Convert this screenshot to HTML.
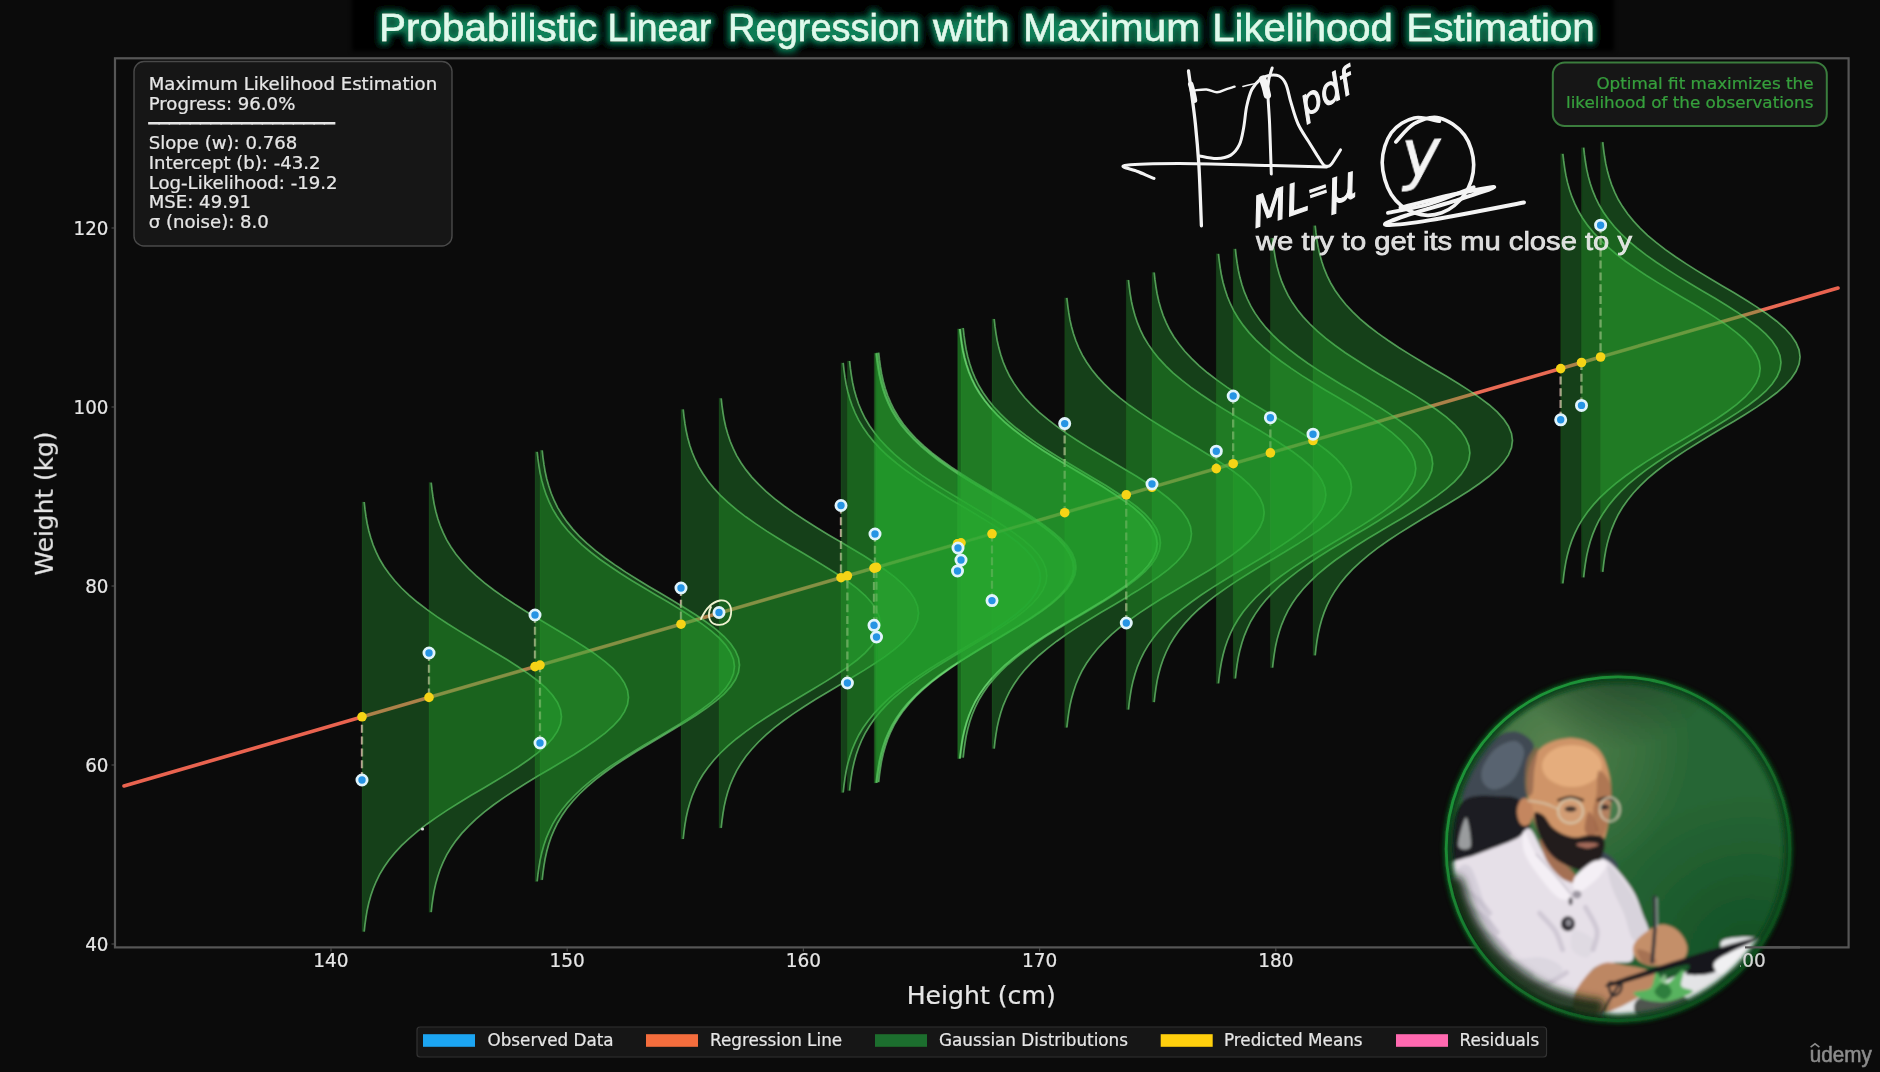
<!DOCTYPE html>
<html lang="en"><head><meta charset="utf-8"><title>Probabilistic Linear Regression with Maximum Likelihood Estimation</title>
<style>
html,body{margin:0;padding:0;background:#0b0b0b;overflow:hidden}
svg{display:block}
text{font-family:"DejaVu Sans","Liberation Sans",sans-serif;fill:#e6e6e6;stroke:#e6e6e6;stroke-width:.22px}
.t2{font-family:"Liberation Sans","DejaVu Sans",sans-serif}
</style></head><body>
<svg width="1880" height="1072" viewBox="0 0 1880 1072">
<defs>
<filter id="glow" x="-5%" y="-60%" width="110%" height="220%"><feGaussianBlur stdDeviation="3.6"/></filter>
<filter id="tglow" x="-2%" y="-60%" width="104%" height="220%"><feMorphology in="SourceAlpha" operator="dilate" radius="3.3" result="d"/><feGaussianBlur in="d" stdDeviation="3.4" result="b"/><feFlood flood-color="#0a8058" result="c"/><feComposite in="c" in2="b" operator="in" result="g"/><feMerge><feMergeNode in="g"/><feMergeNode in="SourceGraphic"/></feMerge></filter>
<filter id="soft" x="0" y="0" width="100%" height="100%" filterUnits="userSpaceOnUse"><feGaussianBlur stdDeviation="0.55"/></filter>
<filter id="b1"><feGaussianBlur stdDeviation="0.6"/></filter>
<filter id="b2"><feGaussianBlur stdDeviation="2"/></filter>
<filter id="b4"><feGaussianBlur stdDeviation="4"/></filter>
<clipPath id="plotclip"><rect x="115" y="58.3" width="1733.6" height="889.1"/></clipPath>
<filter id="cb" x="-5%" y="-5%" width="110%" height="110%"><feGaussianBlur stdDeviation="1.4"/></filter>
<clipPath id="c200"><rect x="1740" y="945" width="40" height="30"/></clipPath>
<clipPath id="camclip"><circle cx="1618" cy="848.7" r="171.5"/></clipPath>
<linearGradient id="ringg" gradientUnits="userSpaceOnUse" x1="1490" y1="720" x2="1740" y2="980"><stop offset="0" stop-color="#20983a"/><stop offset=".55" stop-color="#15702b"/><stop offset="1" stop-color="#0d4a1d"/></linearGradient>
<radialGradient id="cg1" gradientUnits="userSpaceOnUse" cx="1550" cy="745" r="140"><stop offset="0" stop-color="#6a8c5a" stop-opacity=".7"/><stop offset="1" stop-color="#6a8c5a" stop-opacity="0"/></radialGradient>
<radialGradient id="cg2" gradientUnits="userSpaceOnUse" cx="1750" cy="960" r="170"><stop offset="0" stop-color="#0d4a22" stop-opacity=".85"/><stop offset="1" stop-color="#0d4a22" stop-opacity="0"/></radialGradient>
<radialGradient id="cg3" gradientUnits="userSpaceOnUse" cx="1618" cy="640" r="110"><stop offset="0" stop-color="#1e3a24" stop-opacity=".9"/><stop offset="1" stop-color="#1e3a24" stop-opacity="0"/></radialGradient>
<radialGradient id="cambg" cx="0.35" cy="0.25" r="0.85">
<stop offset="0" stop-color="#5a8048"/><stop offset="0.45" stop-color="#2f6a38"/><stop offset="1" stop-color="#124a22"/></radialGradient>
</defs>
<rect x="0" y="0" width="1880" height="1072" fill="#0b0b0b"/>
<g filter="url(#soft)">

<rect x="352" y="-6" width="1262" height="57" fill="#000" filter="url(#b2)"/>
<g class="t2" font-size="38.5" text-anchor="start">
<text y="40.5" class="t2" style="fill:#defaec;stroke:#defaec;stroke-width:.35" filter="url(#tglow)"><tspan x="378.9" textLength="218.4" lengthAdjust="spacingAndGlyphs">Probabilistic</tspan> <tspan x="607.6" textLength="103.9" lengthAdjust="spacingAndGlyphs">Linear</tspan> <tspan x="728.1" textLength="192.1" lengthAdjust="spacingAndGlyphs">Regression</tspan> <tspan x="933.0" textLength="76.7" lengthAdjust="spacingAndGlyphs">with</tspan> <tspan x="1023.0" textLength="177.4" lengthAdjust="spacingAndGlyphs">Maximum</tspan> <tspan x="1212.3" textLength="180.5" lengthAdjust="spacingAndGlyphs">Likelihood</tspan> <tspan x="1406.3" textLength="188.5" lengthAdjust="spacingAndGlyphs">Estimation</tspan></text>
</g>
<rect x="115" y="58.3" width="1733.6" height="889.1" fill="none" stroke="#575757" stroke-width="2.2"/>
<g clip-path="url(#plotclip)">
<line x1="124" y1="786" x2="1838" y2="288" stroke="#e96350" stroke-width="3.6" stroke-linecap="round"/>
<line x1="362.0" y1="780.0" x2="362.0" y2="716.8" stroke="#d0aca2" stroke-opacity="0.85" stroke-width="2.3" stroke-dasharray="8 3.8"/>
<line x1="429.0" y1="653.0" x2="429.0" y2="697.4" stroke="#d0aca2" stroke-opacity="0.85" stroke-width="2.3" stroke-dasharray="8 3.8"/>
<line x1="535.0" y1="615.0" x2="535.0" y2="666.6" stroke="#d0aca2" stroke-opacity="0.85" stroke-width="2.3" stroke-dasharray="8 3.8"/>
<line x1="540.0" y1="743.0" x2="540.0" y2="665.1" stroke="#d0aca2" stroke-opacity="0.85" stroke-width="2.3" stroke-dasharray="8 3.8"/>
<line x1="681.0" y1="588.0" x2="681.0" y2="624.2" stroke="#d0aca2" stroke-opacity="0.85" stroke-width="2.3" stroke-dasharray="8 3.8"/>
<line x1="719.0" y1="612.5" x2="719.0" y2="613.1" stroke="#d0aca2" stroke-opacity="0.85" stroke-width="2.3" stroke-dasharray="8 3.8"/>
<line x1="841.0" y1="505.5" x2="841.0" y2="577.7" stroke="#d0aca2" stroke-opacity="0.85" stroke-width="2.3" stroke-dasharray="8 3.8"/>
<line x1="847.4" y1="683.0" x2="847.4" y2="575.8" stroke="#d0aca2" stroke-opacity="0.85" stroke-width="2.3" stroke-dasharray="8 3.8"/>
<line x1="875.0" y1="534.0" x2="875.0" y2="567.8" stroke="#d0aca2" stroke-opacity="0.85" stroke-width="2.3" stroke-dasharray="8 3.8"/>
<line x1="874.0" y1="625.3" x2="874.0" y2="568.1" stroke="#d0aca2" stroke-opacity="0.85" stroke-width="2.3" stroke-dasharray="8 3.8"/>
<line x1="876.5" y1="637.0" x2="876.5" y2="567.4" stroke="#d0aca2" stroke-opacity="0.85" stroke-width="2.3" stroke-dasharray="8 3.8"/>
<line x1="958.0" y1="548.0" x2="958.0" y2="543.7" stroke="#d0aca2" stroke-opacity="0.85" stroke-width="2.3" stroke-dasharray="8 3.8"/>
<line x1="961.0" y1="560.0" x2="961.0" y2="542.8" stroke="#d0aca2" stroke-opacity="0.85" stroke-width="2.3" stroke-dasharray="8 3.8"/>
<line x1="957.5" y1="571.0" x2="957.5" y2="543.8" stroke="#d0aca2" stroke-opacity="0.85" stroke-width="2.3" stroke-dasharray="8 3.8"/>
<line x1="992.0" y1="600.6" x2="992.0" y2="533.8" stroke="#d0aca2" stroke-opacity="0.85" stroke-width="2.3" stroke-dasharray="8 3.8"/>
<line x1="1064.7" y1="423.6" x2="1064.7" y2="512.7" stroke="#d0aca2" stroke-opacity="0.85" stroke-width="2.3" stroke-dasharray="8 3.8"/>
<line x1="1126.3" y1="623.0" x2="1126.3" y2="494.8" stroke="#d0aca2" stroke-opacity="0.85" stroke-width="2.3" stroke-dasharray="8 3.8"/>
<line x1="1152.0" y1="484.0" x2="1152.0" y2="487.3" stroke="#d0aca2" stroke-opacity="0.85" stroke-width="2.3" stroke-dasharray="8 3.8"/>
<line x1="1216.3" y1="451.2" x2="1216.3" y2="468.6" stroke="#d0aca2" stroke-opacity="0.85" stroke-width="2.3" stroke-dasharray="8 3.8"/>
<line x1="1233.2" y1="396.0" x2="1233.2" y2="463.7" stroke="#d0aca2" stroke-opacity="0.85" stroke-width="2.3" stroke-dasharray="8 3.8"/>
<line x1="1270.4" y1="417.7" x2="1270.4" y2="452.9" stroke="#d0aca2" stroke-opacity="0.85" stroke-width="2.3" stroke-dasharray="8 3.8"/>
<line x1="1313.0" y1="434.2" x2="1313.0" y2="440.5" stroke="#d0aca2" stroke-opacity="0.85" stroke-width="2.3" stroke-dasharray="8 3.8"/>
<line x1="1560.7" y1="419.8" x2="1560.7" y2="368.6" stroke="#d0aca2" stroke-opacity="0.85" stroke-width="2.3" stroke-dasharray="8 3.8"/>
<line x1="1581.5" y1="405.4" x2="1581.5" y2="362.5" stroke="#d0aca2" stroke-opacity="0.85" stroke-width="2.3" stroke-dasharray="8 3.8"/>
<line x1="1600.6" y1="225.2" x2="1600.6" y2="357.0" stroke="#d0aca2" stroke-opacity="0.85" stroke-width="2.3" stroke-dasharray="8 3.8"/>
<path d="M362.0 502.0 L364.2 502.0 L365.0 509.2 L366.0 516.4 L367.2 523.5 L368.8 530.7 L370.8 537.8 L373.2 545.0 L376.2 552.2 L379.7 559.3 L384.0 566.5 L389.0 573.6 L394.8 580.8 L401.5 588.0 L409.0 595.1 L417.5 602.3 L426.8 609.4 L436.9 616.6 L447.7 623.8 L459.1 630.9 L470.9 638.1 L483.0 645.2 L495.1 652.4 L506.9 659.6 L518.1 666.7 L528.6 673.9 L538.1 681.0 L546.2 688.2 L552.7 695.4 L557.5 702.5 L560.5 709.7 L561.5 716.8 L560.5 724.0 L557.5 731.2 L552.7 738.3 L546.2 745.5 L538.1 752.6 L528.6 759.8 L518.1 767.0 L506.9 774.1 L495.1 781.3 L483.0 788.4 L470.9 795.6 L459.1 802.8 L447.7 809.9 L436.9 817.1 L426.8 824.2 L417.5 831.4 L409.0 838.6 L401.5 845.7 L394.8 852.9 L389.0 860.0 L384.0 867.2 L379.7 874.4 L376.2 881.5 L373.2 888.7 L370.8 895.8 L368.8 903.0 L367.2 910.2 L366.0 917.3 L365.0 924.5 L364.2 931.6 L362.0 931.6 Z" fill="rgb(38,171,48)" fill-opacity="0.335" stroke="rgb(80,200,90)" stroke-opacity="0.07" stroke-width="1.2"/>
<path d="M364.2 502.0 L365.0 509.2 L366.0 516.4 L367.2 523.5 L368.8 530.7 L370.8 537.8 L373.2 545.0 L376.2 552.2 L379.7 559.3 L384.0 566.5 L389.0 573.6 L394.8 580.8 L401.5 588.0 L409.0 595.1 L417.5 602.3 L426.8 609.4 L436.9 616.6 L447.7 623.8 L459.1 630.9 L470.9 638.1 L483.0 645.2 L495.1 652.4 L506.9 659.6 L518.1 666.7 L528.6 673.9 L538.1 681.0 L546.2 688.2 L552.7 695.4 L557.5 702.5 L560.5 709.7 L561.5 716.8 L560.5 724.0 L557.5 731.2 L552.7 738.3 L546.2 745.5 L538.1 752.6 L528.6 759.8 L518.1 767.0 L506.9 774.1 L495.1 781.3 L483.0 788.4 L470.9 795.6 L459.1 802.8 L447.7 809.9 L436.9 817.1 L426.8 824.2 L417.5 831.4 L409.0 838.6 L401.5 845.7 L394.8 852.9 L389.0 860.0 L384.0 867.2 L379.7 874.4 L376.2 881.5 L373.2 888.7 L370.8 895.8 L368.8 903.0 L367.2 910.2 L366.0 917.3 L365.0 924.5 L364.2 931.6" fill="none" stroke="rgb(125,228,130)" stroke-opacity="0.6" stroke-width="1.7"/>
<path d="M429.0 482.6 L431.2 482.6 L432.0 489.7 L433.0 496.9 L434.2 504.1 L435.8 511.2 L437.8 518.4 L440.2 525.5 L443.2 532.7 L446.7 539.9 L451.0 547.0 L456.0 554.2 L461.8 561.3 L468.5 568.5 L476.0 575.7 L484.5 582.8 L493.8 590.0 L503.9 597.1 L514.7 604.3 L526.1 611.5 L537.9 618.6 L550.0 625.8 L562.1 632.9 L573.9 640.1 L585.1 647.3 L595.6 654.4 L605.1 661.6 L613.2 668.7 L619.7 675.9 L624.5 683.1 L627.5 690.2 L628.5 697.4 L627.5 704.5 L624.5 711.7 L619.7 718.9 L613.2 726.0 L605.1 733.2 L595.6 740.3 L585.1 747.5 L573.9 754.7 L562.1 761.8 L550.0 769.0 L537.9 776.1 L526.1 783.3 L514.7 790.5 L503.9 797.6 L493.8 804.8 L484.5 811.9 L476.0 819.1 L468.5 826.3 L461.8 833.4 L456.0 840.6 L451.0 847.7 L446.7 854.9 L443.2 862.1 L440.2 869.2 L437.8 876.4 L435.8 883.5 L434.2 890.7 L433.0 897.9 L432.0 905.0 L431.2 912.2 L429.0 912.2 Z" fill="rgb(38,171,48)" fill-opacity="0.335" stroke="rgb(80,200,90)" stroke-opacity="0.07" stroke-width="1.2"/>
<path d="M431.2 482.6 L432.0 489.7 L433.0 496.9 L434.2 504.1 L435.8 511.2 L437.8 518.4 L440.2 525.5 L443.2 532.7 L446.7 539.9 L451.0 547.0 L456.0 554.2 L461.8 561.3 L468.5 568.5 L476.0 575.7 L484.5 582.8 L493.8 590.0 L503.9 597.1 L514.7 604.3 L526.1 611.5 L537.9 618.6 L550.0 625.8 L562.1 632.9 L573.9 640.1 L585.1 647.3 L595.6 654.4 L605.1 661.6 L613.2 668.7 L619.7 675.9 L624.5 683.1 L627.5 690.2 L628.5 697.4 L627.5 704.5 L624.5 711.7 L619.7 718.9 L613.2 726.0 L605.1 733.2 L595.6 740.3 L585.1 747.5 L573.9 754.7 L562.1 761.8 L550.0 769.0 L537.9 776.1 L526.1 783.3 L514.7 790.5 L503.9 797.6 L493.8 804.8 L484.5 811.9 L476.0 819.1 L468.5 826.3 L461.8 833.4 L456.0 840.6 L451.0 847.7 L446.7 854.9 L443.2 862.1 L440.2 869.2 L437.8 876.4 L435.8 883.5 L434.2 890.7 L433.0 897.9 L432.0 905.0 L431.2 912.2" fill="none" stroke="rgb(125,228,130)" stroke-opacity="0.6" stroke-width="1.7"/>
<path d="M535.0 451.8 L537.2 451.8 L538.0 458.9 L539.0 466.1 L540.2 473.3 L541.8 480.4 L543.8 487.6 L546.2 494.7 L549.2 501.9 L552.7 509.1 L557.0 516.2 L562.0 523.4 L567.8 530.5 L574.5 537.7 L582.0 544.9 L590.5 552.0 L599.8 559.2 L609.9 566.3 L620.7 573.5 L632.1 580.7 L643.9 587.8 L656.0 595.0 L668.1 602.1 L679.9 609.3 L691.1 616.5 L701.6 623.6 L711.1 630.8 L719.2 637.9 L725.7 645.1 L730.5 652.3 L733.5 659.4 L734.5 666.6 L733.5 673.7 L730.5 680.9 L725.7 688.1 L719.2 695.2 L711.1 702.4 L701.6 709.5 L691.1 716.7 L679.9 723.9 L668.1 731.0 L656.0 738.2 L643.9 745.3 L632.1 752.5 L620.7 759.7 L609.9 766.8 L599.8 774.0 L590.5 781.1 L582.0 788.3 L574.5 795.5 L567.8 802.6 L562.0 809.8 L557.0 816.9 L552.7 824.1 L549.2 831.3 L546.2 838.4 L543.8 845.6 L541.8 852.7 L540.2 859.9 L539.0 867.1 L538.0 874.2 L537.2 881.4 L535.0 881.4 Z" fill="rgb(38,171,48)" fill-opacity="0.335" stroke="rgb(80,200,90)" stroke-opacity="0.07" stroke-width="1.2"/>
<path d="M537.2 451.8 L538.0 458.9 L539.0 466.1 L540.2 473.3 L541.8 480.4 L543.8 487.6 L546.2 494.7 L549.2 501.9 L552.7 509.1 L557.0 516.2 L562.0 523.4 L567.8 530.5 L574.5 537.7 L582.0 544.9 L590.5 552.0 L599.8 559.2 L609.9 566.3 L620.7 573.5 L632.1 580.7 L643.9 587.8 L656.0 595.0 L668.1 602.1 L679.9 609.3 L691.1 616.5 L701.6 623.6 L711.1 630.8 L719.2 637.9 L725.7 645.1 L730.5 652.3 L733.5 659.4 L734.5 666.6 L733.5 673.7 L730.5 680.9 L725.7 688.1 L719.2 695.2 L711.1 702.4 L701.6 709.5 L691.1 716.7 L679.9 723.9 L668.1 731.0 L656.0 738.2 L643.9 745.3 L632.1 752.5 L620.7 759.7 L609.9 766.8 L599.8 774.0 L590.5 781.1 L582.0 788.3 L574.5 795.5 L567.8 802.6 L562.0 809.8 L557.0 816.9 L552.7 824.1 L549.2 831.3 L546.2 838.4 L543.8 845.6 L541.8 852.7 L540.2 859.9 L539.0 867.1 L538.0 874.2 L537.2 881.4" fill="none" stroke="rgb(125,228,130)" stroke-opacity="0.6" stroke-width="1.7"/>
<path d="M540.0 450.3 L542.2 450.3 L543.0 457.5 L544.0 464.7 L545.2 471.8 L546.8 479.0 L548.8 486.1 L551.2 493.3 L554.2 500.5 L557.7 507.6 L562.0 514.8 L567.0 521.9 L572.8 529.1 L579.5 536.3 L587.0 543.4 L595.5 550.6 L604.8 557.7 L614.9 564.9 L625.7 572.1 L637.1 579.2 L648.9 586.4 L661.0 593.5 L673.1 600.7 L684.9 607.9 L696.1 615.0 L706.6 622.2 L716.1 629.3 L724.2 636.5 L730.7 643.7 L735.5 650.8 L738.5 658.0 L739.5 665.1 L738.5 672.3 L735.5 679.5 L730.7 686.6 L724.2 693.8 L716.1 700.9 L706.6 708.1 L696.1 715.3 L684.9 722.4 L673.1 729.6 L661.0 736.7 L648.9 743.9 L637.1 751.1 L625.7 758.2 L614.9 765.4 L604.8 772.5 L595.5 779.7 L587.0 786.9 L579.5 794.0 L572.8 801.2 L567.0 808.3 L562.0 815.5 L557.7 822.7 L554.2 829.8 L551.2 837.0 L548.8 844.1 L546.8 851.3 L545.2 858.5 L544.0 865.6 L543.0 872.8 L542.2 879.9 L540.0 879.9 Z" fill="rgb(38,171,48)" fill-opacity="0.335" stroke="rgb(80,200,90)" stroke-opacity="0.07" stroke-width="1.2"/>
<path d="M542.2 450.3 L543.0 457.5 L544.0 464.7 L545.2 471.8 L546.8 479.0 L548.8 486.1 L551.2 493.3 L554.2 500.5 L557.7 507.6 L562.0 514.8 L567.0 521.9 L572.8 529.1 L579.5 536.3 L587.0 543.4 L595.5 550.6 L604.8 557.7 L614.9 564.9 L625.7 572.1 L637.1 579.2 L648.9 586.4 L661.0 593.5 L673.1 600.7 L684.9 607.9 L696.1 615.0 L706.6 622.2 L716.1 629.3 L724.2 636.5 L730.7 643.7 L735.5 650.8 L738.5 658.0 L739.5 665.1 L738.5 672.3 L735.5 679.5 L730.7 686.6 L724.2 693.8 L716.1 700.9 L706.6 708.1 L696.1 715.3 L684.9 722.4 L673.1 729.6 L661.0 736.7 L648.9 743.9 L637.1 751.1 L625.7 758.2 L614.9 765.4 L604.8 772.5 L595.5 779.7 L587.0 786.9 L579.5 794.0 L572.8 801.2 L567.0 808.3 L562.0 815.5 L557.7 822.7 L554.2 829.8 L551.2 837.0 L548.8 844.1 L546.8 851.3 L545.2 858.5 L544.0 865.6 L543.0 872.8 L542.2 879.9" fill="none" stroke="rgb(125,228,130)" stroke-opacity="0.6" stroke-width="1.7"/>
<path d="M681.0 409.4 L683.2 409.4 L684.0 416.5 L685.0 423.7 L686.2 430.8 L687.8 438.0 L689.8 445.2 L692.2 452.3 L695.2 459.5 L698.7 466.6 L703.0 473.8 L708.0 481.0 L713.8 488.1 L720.5 495.3 L728.0 502.4 L736.5 509.6 L745.8 516.8 L755.9 523.9 L766.7 531.1 L778.1 538.2 L789.9 545.4 L802.0 552.6 L814.1 559.7 L825.9 566.9 L837.1 574.0 L847.6 581.2 L857.1 588.4 L865.2 595.5 L871.7 602.7 L876.5 609.8 L879.5 617.0 L880.5 624.2 L879.5 631.3 L876.5 638.5 L871.7 645.6 L865.2 652.8 L857.1 660.0 L847.6 667.1 L837.1 674.3 L825.9 681.4 L814.1 688.6 L802.0 695.8 L789.9 702.9 L778.1 710.1 L766.7 717.2 L755.9 724.4 L745.8 731.6 L736.5 738.7 L728.0 745.9 L720.5 753.0 L713.8 760.2 L708.0 767.4 L703.0 774.5 L698.7 781.7 L695.2 788.8 L692.2 796.0 L689.8 803.2 L687.8 810.3 L686.2 817.5 L685.0 824.6 L684.0 831.8 L683.2 839.0 L681.0 839.0 Z" fill="rgb(38,171,48)" fill-opacity="0.335" stroke="rgb(80,200,90)" stroke-opacity="0.07" stroke-width="1.2"/>
<path d="M683.2 409.4 L684.0 416.5 L685.0 423.7 L686.2 430.8 L687.8 438.0 L689.8 445.2 L692.2 452.3 L695.2 459.5 L698.7 466.6 L703.0 473.8 L708.0 481.0 L713.8 488.1 L720.5 495.3 L728.0 502.4 L736.5 509.6 L745.8 516.8 L755.9 523.9 L766.7 531.1 L778.1 538.2 L789.9 545.4 L802.0 552.6 L814.1 559.7 L825.9 566.9 L837.1 574.0 L847.6 581.2 L857.1 588.4 L865.2 595.5 L871.7 602.7 L876.5 609.8 L879.5 617.0 L880.5 624.2 L879.5 631.3 L876.5 638.5 L871.7 645.6 L865.2 652.8 L857.1 660.0 L847.6 667.1 L837.1 674.3 L825.9 681.4 L814.1 688.6 L802.0 695.8 L789.9 702.9 L778.1 710.1 L766.7 717.2 L755.9 724.4 L745.8 731.6 L736.5 738.7 L728.0 745.9 L720.5 753.0 L713.8 760.2 L708.0 767.4 L703.0 774.5 L698.7 781.7 L695.2 788.8 L692.2 796.0 L689.8 803.2 L687.8 810.3 L686.2 817.5 L685.0 824.6 L684.0 831.8 L683.2 839.0" fill="none" stroke="rgb(125,228,130)" stroke-opacity="0.6" stroke-width="1.7"/>
<path d="M719.0 398.3 L721.2 398.3 L722.0 405.5 L723.0 412.6 L724.2 419.8 L725.8 427.0 L727.8 434.1 L730.2 441.3 L733.2 448.4 L736.7 455.6 L741.0 462.8 L746.0 469.9 L751.8 477.1 L758.5 484.2 L766.0 491.4 L774.5 498.6 L783.8 505.7 L793.9 512.9 L804.7 520.0 L816.1 527.2 L827.9 534.4 L840.0 541.5 L852.1 548.7 L863.9 555.8 L875.1 563.0 L885.6 570.2 L895.1 577.3 L903.2 584.5 L909.7 591.6 L914.5 598.8 L917.5 606.0 L918.5 613.1 L917.5 620.3 L914.5 627.4 L909.7 634.6 L903.2 641.8 L895.1 648.9 L885.6 656.1 L875.1 663.2 L863.9 670.4 L852.1 677.6 L840.0 684.7 L827.9 691.9 L816.1 699.0 L804.7 706.2 L793.9 713.4 L783.8 720.5 L774.5 727.7 L766.0 734.8 L758.5 742.0 L751.8 749.2 L746.0 756.3 L741.0 763.5 L736.7 770.6 L733.2 777.8 L730.2 785.0 L727.8 792.1 L725.8 799.3 L724.2 806.4 L723.0 813.6 L722.0 820.8 L721.2 827.9 L719.0 827.9 Z" fill="rgb(38,171,48)" fill-opacity="0.335" stroke="rgb(80,200,90)" stroke-opacity="0.07" stroke-width="1.2"/>
<path d="M721.2 398.3 L722.0 405.5 L723.0 412.6 L724.2 419.8 L725.8 427.0 L727.8 434.1 L730.2 441.3 L733.2 448.4 L736.7 455.6 L741.0 462.8 L746.0 469.9 L751.8 477.1 L758.5 484.2 L766.0 491.4 L774.5 498.6 L783.8 505.7 L793.9 512.9 L804.7 520.0 L816.1 527.2 L827.9 534.4 L840.0 541.5 L852.1 548.7 L863.9 555.8 L875.1 563.0 L885.6 570.2 L895.1 577.3 L903.2 584.5 L909.7 591.6 L914.5 598.8 L917.5 606.0 L918.5 613.1 L917.5 620.3 L914.5 627.4 L909.7 634.6 L903.2 641.8 L895.1 648.9 L885.6 656.1 L875.1 663.2 L863.9 670.4 L852.1 677.6 L840.0 684.7 L827.9 691.9 L816.1 699.0 L804.7 706.2 L793.9 713.4 L783.8 720.5 L774.5 727.7 L766.0 734.8 L758.5 742.0 L751.8 749.2 L746.0 756.3 L741.0 763.5 L736.7 770.6 L733.2 777.8 L730.2 785.0 L727.8 792.1 L725.8 799.3 L724.2 806.4 L723.0 813.6 L722.0 820.8 L721.2 827.9" fill="none" stroke="rgb(125,228,130)" stroke-opacity="0.6" stroke-width="1.7"/>
<path d="M841.0 362.9 L843.2 362.9 L844.0 370.0 L845.0 377.2 L846.2 384.4 L847.8 391.5 L849.8 398.7 L852.2 405.8 L855.2 413.0 L858.7 420.2 L863.0 427.3 L868.0 434.5 L873.8 441.6 L880.5 448.8 L888.0 456.0 L896.5 463.1 L905.8 470.3 L915.9 477.4 L926.7 484.6 L938.1 491.8 L949.9 498.9 L962.0 506.1 L974.1 513.2 L985.9 520.4 L997.1 527.6 L1007.6 534.7 L1017.1 541.9 L1025.2 549.0 L1031.7 556.2 L1036.5 563.4 L1039.5 570.5 L1040.5 577.7 L1039.5 584.8 L1036.5 592.0 L1031.7 599.2 L1025.2 606.3 L1017.1 613.5 L1007.6 620.6 L997.1 627.8 L985.9 635.0 L974.1 642.1 L962.0 649.3 L949.9 656.4 L938.1 663.6 L926.7 670.8 L915.9 677.9 L905.8 685.1 L896.5 692.2 L888.0 699.4 L880.5 706.6 L873.8 713.7 L868.0 720.9 L863.0 728.0 L858.7 735.2 L855.2 742.4 L852.2 749.5 L849.8 756.7 L847.8 763.8 L846.2 771.0 L845.0 778.2 L844.0 785.3 L843.2 792.5 L841.0 792.5 Z" fill="rgb(38,171,48)" fill-opacity="0.335" stroke="rgb(80,200,90)" stroke-opacity="0.07" stroke-width="1.2"/>
<path d="M843.2 362.9 L844.0 370.0 L845.0 377.2 L846.2 384.4 L847.8 391.5 L849.8 398.7 L852.2 405.8 L855.2 413.0 L858.7 420.2 L863.0 427.3 L868.0 434.5 L873.8 441.6 L880.5 448.8 L888.0 456.0 L896.5 463.1 L905.8 470.3 L915.9 477.4 L926.7 484.6 L938.1 491.8 L949.9 498.9 L962.0 506.1 L974.1 513.2 L985.9 520.4 L997.1 527.6 L1007.6 534.7 L1017.1 541.9 L1025.2 549.0 L1031.7 556.2 L1036.5 563.4 L1039.5 570.5 L1040.5 577.7 L1039.5 584.8 L1036.5 592.0 L1031.7 599.2 L1025.2 606.3 L1017.1 613.5 L1007.6 620.6 L997.1 627.8 L985.9 635.0 L974.1 642.1 L962.0 649.3 L949.9 656.4 L938.1 663.6 L926.7 670.8 L915.9 677.9 L905.8 685.1 L896.5 692.2 L888.0 699.4 L880.5 706.6 L873.8 713.7 L868.0 720.9 L863.0 728.0 L858.7 735.2 L855.2 742.4 L852.2 749.5 L849.8 756.7 L847.8 763.8 L846.2 771.0 L845.0 778.2 L844.0 785.3 L843.2 792.5" fill="none" stroke="rgb(125,228,130)" stroke-opacity="0.6" stroke-width="1.7"/>
<path d="M847.4 361.0 L849.6 361.0 L850.4 368.2 L851.4 375.3 L852.6 382.5 L854.2 389.7 L856.2 396.8 L858.6 404.0 L861.6 411.1 L865.1 418.3 L869.4 425.5 L874.4 432.6 L880.2 439.8 L886.9 446.9 L894.4 454.1 L902.9 461.3 L912.2 468.4 L922.3 475.6 L933.1 482.7 L944.5 489.9 L956.3 497.1 L968.4 504.2 L980.5 511.4 L992.3 518.5 L1003.5 525.7 L1014.0 532.9 L1023.5 540.0 L1031.6 547.2 L1038.1 554.3 L1042.9 561.5 L1045.9 568.7 L1046.9 575.8 L1045.9 583.0 L1042.9 590.1 L1038.1 597.3 L1031.6 604.5 L1023.5 611.6 L1014.0 618.8 L1003.5 625.9 L992.3 633.1 L980.5 640.3 L968.4 647.4 L956.3 654.6 L944.5 661.7 L933.1 668.9 L922.3 676.1 L912.2 683.2 L902.9 690.4 L894.4 697.5 L886.9 704.7 L880.2 711.9 L874.4 719.0 L869.4 726.2 L865.1 733.3 L861.6 740.5 L858.6 747.7 L856.2 754.8 L854.2 762.0 L852.6 769.1 L851.4 776.3 L850.4 783.5 L849.6 790.6 L847.4 790.6 Z" fill="rgb(38,171,48)" fill-opacity="0.335" stroke="rgb(80,200,90)" stroke-opacity="0.07" stroke-width="1.2"/>
<path d="M849.6 361.0 L850.4 368.2 L851.4 375.3 L852.6 382.5 L854.2 389.7 L856.2 396.8 L858.6 404.0 L861.6 411.1 L865.1 418.3 L869.4 425.5 L874.4 432.6 L880.2 439.8 L886.9 446.9 L894.4 454.1 L902.9 461.3 L912.2 468.4 L922.3 475.6 L933.1 482.7 L944.5 489.9 L956.3 497.1 L968.4 504.2 L980.5 511.4 L992.3 518.5 L1003.5 525.7 L1014.0 532.9 L1023.5 540.0 L1031.6 547.2 L1038.1 554.3 L1042.9 561.5 L1045.9 568.7 L1046.9 575.8 L1045.9 583.0 L1042.9 590.1 L1038.1 597.3 L1031.6 604.5 L1023.5 611.6 L1014.0 618.8 L1003.5 625.9 L992.3 633.1 L980.5 640.3 L968.4 647.4 L956.3 654.6 L944.5 661.7 L933.1 668.9 L922.3 676.1 L912.2 683.2 L902.9 690.4 L894.4 697.5 L886.9 704.7 L880.2 711.9 L874.4 719.0 L869.4 726.2 L865.1 733.3 L861.6 740.5 L858.6 747.7 L856.2 754.8 L854.2 762.0 L852.6 769.1 L851.4 776.3 L850.4 783.5 L849.6 790.6" fill="none" stroke="rgb(125,228,130)" stroke-opacity="0.6" stroke-width="1.7"/>
<path d="M875.0 353.0 L877.2 353.0 L878.0 360.2 L879.0 367.3 L880.2 374.5 L881.8 381.6 L883.8 388.8 L886.2 396.0 L889.2 403.1 L892.7 410.3 L897.0 417.4 L902.0 424.6 L907.8 431.8 L914.5 438.9 L922.0 446.1 L930.5 453.2 L939.8 460.4 L949.9 467.6 L960.7 474.7 L972.1 481.9 L983.9 489.0 L996.0 496.2 L1008.1 503.4 L1019.9 510.5 L1031.1 517.7 L1041.6 524.8 L1051.1 532.0 L1059.2 539.2 L1065.7 546.3 L1070.5 553.5 L1073.5 560.6 L1074.5 567.8 L1073.5 575.0 L1070.5 582.1 L1065.7 589.3 L1059.2 596.4 L1051.1 603.6 L1041.6 610.8 L1031.1 617.9 L1019.9 625.1 L1008.1 632.2 L996.0 639.4 L983.9 646.6 L972.1 653.7 L960.7 660.9 L949.9 668.0 L939.8 675.2 L930.5 682.4 L922.0 689.5 L914.5 696.7 L907.8 703.8 L902.0 711.0 L897.0 718.2 L892.7 725.3 L889.2 732.5 L886.2 739.6 L883.8 746.8 L881.8 754.0 L880.2 761.1 L879.0 768.3 L878.0 775.4 L877.2 782.6 L875.0 782.6 Z" fill="rgb(38,171,48)" fill-opacity="0.335" stroke="rgb(80,200,90)" stroke-opacity="0.07" stroke-width="1.2"/>
<path d="M877.2 353.0 L878.0 360.2 L879.0 367.3 L880.2 374.5 L881.8 381.6 L883.8 388.8 L886.2 396.0 L889.2 403.1 L892.7 410.3 L897.0 417.4 L902.0 424.6 L907.8 431.8 L914.5 438.9 L922.0 446.1 L930.5 453.2 L939.8 460.4 L949.9 467.6 L960.7 474.7 L972.1 481.9 L983.9 489.0 L996.0 496.2 L1008.1 503.4 L1019.9 510.5 L1031.1 517.7 L1041.6 524.8 L1051.1 532.0 L1059.2 539.2 L1065.7 546.3 L1070.5 553.5 L1073.5 560.6 L1074.5 567.8 L1073.5 575.0 L1070.5 582.1 L1065.7 589.3 L1059.2 596.4 L1051.1 603.6 L1041.6 610.8 L1031.1 617.9 L1019.9 625.1 L1008.1 632.2 L996.0 639.4 L983.9 646.6 L972.1 653.7 L960.7 660.9 L949.9 668.0 L939.8 675.2 L930.5 682.4 L922.0 689.5 L914.5 696.7 L907.8 703.8 L902.0 711.0 L897.0 718.2 L892.7 725.3 L889.2 732.5 L886.2 739.6 L883.8 746.8 L881.8 754.0 L880.2 761.1 L879.0 768.3 L878.0 775.4 L877.2 782.6" fill="none" stroke="rgb(125,228,130)" stroke-opacity="0.6" stroke-width="1.7"/>
<path d="M874.0 353.3 L876.2 353.3 L877.0 360.4 L878.0 367.6 L879.2 374.8 L880.8 381.9 L882.8 389.1 L885.2 396.2 L888.2 403.4 L891.7 410.6 L896.0 417.7 L901.0 424.9 L906.8 432.0 L913.5 439.2 L921.0 446.4 L929.5 453.5 L938.8 460.7 L948.9 467.8 L959.7 475.0 L971.1 482.2 L982.9 489.3 L995.0 496.5 L1007.1 503.6 L1018.9 510.8 L1030.1 518.0 L1040.6 525.1 L1050.1 532.3 L1058.2 539.4 L1064.7 546.6 L1069.5 553.8 L1072.5 560.9 L1073.5 568.1 L1072.5 575.2 L1069.5 582.4 L1064.7 589.6 L1058.2 596.7 L1050.1 603.9 L1040.6 611.0 L1030.1 618.2 L1018.9 625.4 L1007.1 632.5 L995.0 639.7 L982.9 646.8 L971.1 654.0 L959.7 661.2 L948.9 668.3 L938.8 675.5 L929.5 682.6 L921.0 689.8 L913.5 697.0 L906.8 704.1 L901.0 711.3 L896.0 718.4 L891.7 725.6 L888.2 732.8 L885.2 739.9 L882.8 747.1 L880.8 754.2 L879.2 761.4 L878.0 768.6 L877.0 775.7 L876.2 782.9 L874.0 782.9 Z" fill="rgb(38,171,48)" fill-opacity="0.335" stroke="rgb(80,200,90)" stroke-opacity="0.07" stroke-width="1.2"/>
<path d="M876.2 353.3 L877.0 360.4 L878.0 367.6 L879.2 374.8 L880.8 381.9 L882.8 389.1 L885.2 396.2 L888.2 403.4 L891.7 410.6 L896.0 417.7 L901.0 424.9 L906.8 432.0 L913.5 439.2 L921.0 446.4 L929.5 453.5 L938.8 460.7 L948.9 467.8 L959.7 475.0 L971.1 482.2 L982.9 489.3 L995.0 496.5 L1007.1 503.6 L1018.9 510.8 L1030.1 518.0 L1040.6 525.1 L1050.1 532.3 L1058.2 539.4 L1064.7 546.6 L1069.5 553.8 L1072.5 560.9 L1073.5 568.1 L1072.5 575.2 L1069.5 582.4 L1064.7 589.6 L1058.2 596.7 L1050.1 603.9 L1040.6 611.0 L1030.1 618.2 L1018.9 625.4 L1007.1 632.5 L995.0 639.7 L982.9 646.8 L971.1 654.0 L959.7 661.2 L948.9 668.3 L938.8 675.5 L929.5 682.6 L921.0 689.8 L913.5 697.0 L906.8 704.1 L901.0 711.3 L896.0 718.4 L891.7 725.6 L888.2 732.8 L885.2 739.9 L882.8 747.1 L880.8 754.2 L879.2 761.4 L878.0 768.6 L877.0 775.7 L876.2 782.9" fill="none" stroke="rgb(125,228,130)" stroke-opacity="0.6" stroke-width="1.7"/>
<path d="M876.5 352.6 L878.7 352.6 L879.5 359.7 L880.5 366.9 L881.7 374.0 L883.3 381.2 L885.3 388.4 L887.7 395.5 L890.7 402.7 L894.2 409.8 L898.5 417.0 L903.5 424.2 L909.3 431.3 L916.0 438.5 L923.5 445.6 L932.0 452.8 L941.3 460.0 L951.4 467.1 L962.2 474.3 L973.6 481.4 L985.4 488.6 L997.5 495.8 L1009.6 502.9 L1021.4 510.1 L1032.6 517.2 L1043.1 524.4 L1052.6 531.6 L1060.7 538.7 L1067.2 545.9 L1072.0 553.0 L1075.0 560.2 L1076.0 567.4 L1075.0 574.5 L1072.0 581.7 L1067.2 588.8 L1060.7 596.0 L1052.6 603.2 L1043.1 610.3 L1032.6 617.5 L1021.4 624.6 L1009.6 631.8 L997.5 639.0 L985.4 646.1 L973.6 653.3 L962.2 660.4 L951.4 667.6 L941.3 674.8 L932.0 681.9 L923.5 689.1 L916.0 696.2 L909.3 703.4 L903.5 710.6 L898.5 717.7 L894.2 724.9 L890.7 732.0 L887.7 739.2 L885.3 746.4 L883.3 753.5 L881.7 760.7 L880.5 767.8 L879.5 775.0 L878.7 782.2 L876.5 782.2 Z" fill="rgb(38,171,48)" fill-opacity="0.335" stroke="rgb(80,200,90)" stroke-opacity="0.07" stroke-width="1.2"/>
<path d="M878.7 352.6 L879.5 359.7 L880.5 366.9 L881.7 374.0 L883.3 381.2 L885.3 388.4 L887.7 395.5 L890.7 402.7 L894.2 409.8 L898.5 417.0 L903.5 424.2 L909.3 431.3 L916.0 438.5 L923.5 445.6 L932.0 452.8 L941.3 460.0 L951.4 467.1 L962.2 474.3 L973.6 481.4 L985.4 488.6 L997.5 495.8 L1009.6 502.9 L1021.4 510.1 L1032.6 517.2 L1043.1 524.4 L1052.6 531.6 L1060.7 538.7 L1067.2 545.9 L1072.0 553.0 L1075.0 560.2 L1076.0 567.4 L1075.0 574.5 L1072.0 581.7 L1067.2 588.8 L1060.7 596.0 L1052.6 603.2 L1043.1 610.3 L1032.6 617.5 L1021.4 624.6 L1009.6 631.8 L997.5 639.0 L985.4 646.1 L973.6 653.3 L962.2 660.4 L951.4 667.6 L941.3 674.8 L932.0 681.9 L923.5 689.1 L916.0 696.2 L909.3 703.4 L903.5 710.6 L898.5 717.7 L894.2 724.9 L890.7 732.0 L887.7 739.2 L885.3 746.4 L883.3 753.5 L881.7 760.7 L880.5 767.8 L879.5 775.0 L878.7 782.2" fill="none" stroke="rgb(125,228,130)" stroke-opacity="0.6" stroke-width="1.7"/>
<path d="M958.0 328.9 L960.2 328.9 L961.0 336.0 L962.0 343.2 L963.2 350.4 L964.8 357.5 L966.8 364.7 L969.2 371.8 L972.2 379.0 L975.7 386.2 L980.0 393.3 L985.0 400.5 L990.8 407.6 L997.5 414.8 L1005.0 422.0 L1013.5 429.1 L1022.8 436.3 L1032.9 443.4 L1043.7 450.6 L1055.1 457.8 L1066.9 464.9 L1079.0 472.1 L1091.1 479.2 L1102.9 486.4 L1114.1 493.6 L1124.6 500.7 L1134.1 507.9 L1142.2 515.0 L1148.7 522.2 L1153.5 529.4 L1156.5 536.5 L1157.5 543.7 L1156.5 550.8 L1153.5 558.0 L1148.7 565.2 L1142.2 572.3 L1134.1 579.5 L1124.6 586.6 L1114.1 593.8 L1102.9 601.0 L1091.1 608.1 L1079.0 615.3 L1066.9 622.4 L1055.1 629.6 L1043.7 636.8 L1032.9 643.9 L1022.8 651.1 L1013.5 658.2 L1005.0 665.4 L997.5 672.6 L990.8 679.7 L985.0 686.9 L980.0 694.0 L975.7 701.2 L972.2 708.4 L969.2 715.5 L966.8 722.7 L964.8 729.8 L963.2 737.0 L962.0 744.2 L961.0 751.3 L960.2 758.5 L958.0 758.5 Z" fill="rgb(38,171,48)" fill-opacity="0.335" stroke="rgb(80,200,90)" stroke-opacity="0.07" stroke-width="1.2"/>
<path d="M960.2 328.9 L961.0 336.0 L962.0 343.2 L963.2 350.4 L964.8 357.5 L966.8 364.7 L969.2 371.8 L972.2 379.0 L975.7 386.2 L980.0 393.3 L985.0 400.5 L990.8 407.6 L997.5 414.8 L1005.0 422.0 L1013.5 429.1 L1022.8 436.3 L1032.9 443.4 L1043.7 450.6 L1055.1 457.8 L1066.9 464.9 L1079.0 472.1 L1091.1 479.2 L1102.9 486.4 L1114.1 493.6 L1124.6 500.7 L1134.1 507.9 L1142.2 515.0 L1148.7 522.2 L1153.5 529.4 L1156.5 536.5 L1157.5 543.7 L1156.5 550.8 L1153.5 558.0 L1148.7 565.2 L1142.2 572.3 L1134.1 579.5 L1124.6 586.6 L1114.1 593.8 L1102.9 601.0 L1091.1 608.1 L1079.0 615.3 L1066.9 622.4 L1055.1 629.6 L1043.7 636.8 L1032.9 643.9 L1022.8 651.1 L1013.5 658.2 L1005.0 665.4 L997.5 672.6 L990.8 679.7 L985.0 686.9 L980.0 694.0 L975.7 701.2 L972.2 708.4 L969.2 715.5 L966.8 722.7 L964.8 729.8 L963.2 737.0 L962.0 744.2 L961.0 751.3 L960.2 758.5" fill="none" stroke="rgb(125,228,130)" stroke-opacity="0.6" stroke-width="1.7"/>
<path d="M961.0 328.0 L963.2 328.0 L964.0 335.2 L965.0 342.3 L966.2 349.5 L967.8 356.7 L969.8 363.8 L972.2 371.0 L975.2 378.1 L978.7 385.3 L983.0 392.5 L988.0 399.6 L993.8 406.8 L1000.5 413.9 L1008.0 421.1 L1016.5 428.3 L1025.8 435.4 L1035.9 442.6 L1046.7 449.7 L1058.1 456.9 L1069.9 464.1 L1082.0 471.2 L1094.1 478.4 L1105.9 485.5 L1117.1 492.7 L1127.6 499.9 L1137.1 507.0 L1145.2 514.2 L1151.7 521.3 L1156.5 528.5 L1159.5 535.7 L1160.5 542.8 L1159.5 550.0 L1156.5 557.1 L1151.7 564.3 L1145.2 571.5 L1137.1 578.6 L1127.6 585.8 L1117.1 592.9 L1105.9 600.1 L1094.1 607.3 L1082.0 614.4 L1069.9 621.6 L1058.1 628.7 L1046.7 635.9 L1035.9 643.1 L1025.8 650.2 L1016.5 657.4 L1008.0 664.5 L1000.5 671.7 L993.8 678.9 L988.0 686.0 L983.0 693.2 L978.7 700.3 L975.2 707.5 L972.2 714.7 L969.8 721.8 L967.8 729.0 L966.2 736.1 L965.0 743.3 L964.0 750.5 L963.2 757.6 L961.0 757.6 Z" fill="rgb(38,171,48)" fill-opacity="0.335" stroke="rgb(80,200,90)" stroke-opacity="0.07" stroke-width="1.2"/>
<path d="M963.2 328.0 L964.0 335.2 L965.0 342.3 L966.2 349.5 L967.8 356.7 L969.8 363.8 L972.2 371.0 L975.2 378.1 L978.7 385.3 L983.0 392.5 L988.0 399.6 L993.8 406.8 L1000.5 413.9 L1008.0 421.1 L1016.5 428.3 L1025.8 435.4 L1035.9 442.6 L1046.7 449.7 L1058.1 456.9 L1069.9 464.1 L1082.0 471.2 L1094.1 478.4 L1105.9 485.5 L1117.1 492.7 L1127.6 499.9 L1137.1 507.0 L1145.2 514.2 L1151.7 521.3 L1156.5 528.5 L1159.5 535.7 L1160.5 542.8 L1159.5 550.0 L1156.5 557.1 L1151.7 564.3 L1145.2 571.5 L1137.1 578.6 L1127.6 585.8 L1117.1 592.9 L1105.9 600.1 L1094.1 607.3 L1082.0 614.4 L1069.9 621.6 L1058.1 628.7 L1046.7 635.9 L1035.9 643.1 L1025.8 650.2 L1016.5 657.4 L1008.0 664.5 L1000.5 671.7 L993.8 678.9 L988.0 686.0 L983.0 693.2 L978.7 700.3 L975.2 707.5 L972.2 714.7 L969.8 721.8 L967.8 729.0 L966.2 736.1 L965.0 743.3 L964.0 750.5 L963.2 757.6" fill="none" stroke="rgb(125,228,130)" stroke-opacity="0.6" stroke-width="1.7"/>
<path d="M957.5 329.0 L959.7 329.0 L960.5 336.2 L961.5 343.3 L962.7 350.5 L964.3 357.7 L966.3 364.8 L968.7 372.0 L971.7 379.1 L975.2 386.3 L979.5 393.5 L984.5 400.6 L990.3 407.8 L997.0 414.9 L1004.5 422.1 L1013.0 429.3 L1022.3 436.4 L1032.4 443.6 L1043.2 450.7 L1054.6 457.9 L1066.4 465.1 L1078.5 472.2 L1090.6 479.4 L1102.4 486.5 L1113.6 493.7 L1124.1 500.9 L1133.6 508.0 L1141.7 515.2 L1148.2 522.3 L1153.0 529.5 L1156.0 536.7 L1157.0 543.8 L1156.0 551.0 L1153.0 558.1 L1148.2 565.3 L1141.7 572.5 L1133.6 579.6 L1124.1 586.8 L1113.6 593.9 L1102.4 601.1 L1090.6 608.3 L1078.5 615.4 L1066.4 622.6 L1054.6 629.7 L1043.2 636.9 L1032.4 644.1 L1022.3 651.2 L1013.0 658.4 L1004.5 665.5 L997.0 672.7 L990.3 679.9 L984.5 687.0 L979.5 694.2 L975.2 701.3 L971.7 708.5 L968.7 715.7 L966.3 722.8 L964.3 730.0 L962.7 737.1 L961.5 744.3 L960.5 751.5 L959.7 758.6 L957.5 758.6 Z" fill="rgb(38,171,48)" fill-opacity="0.335" stroke="rgb(80,200,90)" stroke-opacity="0.07" stroke-width="1.2"/>
<path d="M959.7 329.0 L960.5 336.2 L961.5 343.3 L962.7 350.5 L964.3 357.7 L966.3 364.8 L968.7 372.0 L971.7 379.1 L975.2 386.3 L979.5 393.5 L984.5 400.6 L990.3 407.8 L997.0 414.9 L1004.5 422.1 L1013.0 429.3 L1022.3 436.4 L1032.4 443.6 L1043.2 450.7 L1054.6 457.9 L1066.4 465.1 L1078.5 472.2 L1090.6 479.4 L1102.4 486.5 L1113.6 493.7 L1124.1 500.9 L1133.6 508.0 L1141.7 515.2 L1148.2 522.3 L1153.0 529.5 L1156.0 536.7 L1157.0 543.8 L1156.0 551.0 L1153.0 558.1 L1148.2 565.3 L1141.7 572.5 L1133.6 579.6 L1124.1 586.8 L1113.6 593.9 L1102.4 601.1 L1090.6 608.3 L1078.5 615.4 L1066.4 622.6 L1054.6 629.7 L1043.2 636.9 L1032.4 644.1 L1022.3 651.2 L1013.0 658.4 L1004.5 665.5 L997.0 672.7 L990.3 679.9 L984.5 687.0 L979.5 694.2 L975.2 701.3 L971.7 708.5 L968.7 715.7 L966.3 722.8 L964.3 730.0 L962.7 737.1 L961.5 744.3 L960.5 751.5 L959.7 758.6" fill="none" stroke="rgb(125,228,130)" stroke-opacity="0.6" stroke-width="1.7"/>
<path d="M992.0 319.0 L994.2 319.0 L995.0 326.2 L996.0 333.3 L997.2 340.5 L998.8 347.6 L1000.8 354.8 L1003.2 362.0 L1006.2 369.1 L1009.7 376.3 L1014.0 383.4 L1019.0 390.6 L1024.8 397.8 L1031.5 404.9 L1039.0 412.1 L1047.5 419.2 L1056.8 426.4 L1066.9 433.6 L1077.7 440.7 L1089.1 447.9 L1100.9 455.0 L1113.0 462.2 L1125.1 469.4 L1136.9 476.5 L1148.1 483.7 L1158.6 490.8 L1168.1 498.0 L1176.2 505.2 L1182.7 512.3 L1187.5 519.5 L1190.5 526.6 L1191.5 533.8 L1190.5 541.0 L1187.5 548.1 L1182.7 555.3 L1176.2 562.4 L1168.1 569.6 L1158.6 576.8 L1148.1 583.9 L1136.9 591.1 L1125.1 598.2 L1113.0 605.4 L1100.9 612.6 L1089.1 619.7 L1077.7 626.9 L1066.9 634.0 L1056.8 641.2 L1047.5 648.4 L1039.0 655.5 L1031.5 662.7 L1024.8 669.8 L1019.0 677.0 L1014.0 684.2 L1009.7 691.3 L1006.2 698.5 L1003.2 705.6 L1000.8 712.8 L998.8 720.0 L997.2 727.1 L996.0 734.3 L995.0 741.4 L994.2 748.6 L992.0 748.6 Z" fill="rgb(38,171,48)" fill-opacity="0.335" stroke="rgb(80,200,90)" stroke-opacity="0.07" stroke-width="1.2"/>
<path d="M994.2 319.0 L995.0 326.2 L996.0 333.3 L997.2 340.5 L998.8 347.6 L1000.8 354.8 L1003.2 362.0 L1006.2 369.1 L1009.7 376.3 L1014.0 383.4 L1019.0 390.6 L1024.8 397.8 L1031.5 404.9 L1039.0 412.1 L1047.5 419.2 L1056.8 426.4 L1066.9 433.6 L1077.7 440.7 L1089.1 447.9 L1100.9 455.0 L1113.0 462.2 L1125.1 469.4 L1136.9 476.5 L1148.1 483.7 L1158.6 490.8 L1168.1 498.0 L1176.2 505.2 L1182.7 512.3 L1187.5 519.5 L1190.5 526.6 L1191.5 533.8 L1190.5 541.0 L1187.5 548.1 L1182.7 555.3 L1176.2 562.4 L1168.1 569.6 L1158.6 576.8 L1148.1 583.9 L1136.9 591.1 L1125.1 598.2 L1113.0 605.4 L1100.9 612.6 L1089.1 619.7 L1077.7 626.9 L1066.9 634.0 L1056.8 641.2 L1047.5 648.4 L1039.0 655.5 L1031.5 662.7 L1024.8 669.8 L1019.0 677.0 L1014.0 684.2 L1009.7 691.3 L1006.2 698.5 L1003.2 705.6 L1000.8 712.8 L998.8 720.0 L997.2 727.1 L996.0 734.3 L995.0 741.4 L994.2 748.6" fill="none" stroke="rgb(125,228,130)" stroke-opacity="0.6" stroke-width="1.7"/>
<path d="M1064.7 297.9 L1066.9 297.9 L1067.7 305.0 L1068.7 312.2 L1069.9 319.4 L1071.5 326.5 L1073.5 333.7 L1075.9 340.8 L1078.9 348.0 L1082.4 355.2 L1086.7 362.3 L1091.7 369.5 L1097.5 376.6 L1104.2 383.8 L1111.7 391.0 L1120.2 398.1 L1129.5 405.3 L1139.6 412.4 L1150.4 419.6 L1161.8 426.8 L1173.6 433.9 L1185.7 441.1 L1197.8 448.2 L1209.6 455.4 L1220.8 462.6 L1231.3 469.7 L1240.8 476.9 L1248.9 484.0 L1255.4 491.2 L1260.2 498.4 L1263.2 505.5 L1264.2 512.7 L1263.2 519.8 L1260.2 527.0 L1255.4 534.2 L1248.9 541.3 L1240.8 548.5 L1231.3 555.6 L1220.8 562.8 L1209.6 570.0 L1197.8 577.1 L1185.7 584.3 L1173.6 591.4 L1161.8 598.6 L1150.4 605.8 L1139.6 612.9 L1129.5 620.1 L1120.2 627.2 L1111.7 634.4 L1104.2 641.6 L1097.5 648.7 L1091.7 655.9 L1086.7 663.0 L1082.4 670.2 L1078.9 677.4 L1075.9 684.5 L1073.5 691.7 L1071.5 698.8 L1069.9 706.0 L1068.7 713.2 L1067.7 720.3 L1066.9 727.5 L1064.7 727.5 Z" fill="rgb(38,171,48)" fill-opacity="0.335" stroke="rgb(80,200,90)" stroke-opacity="0.07" stroke-width="1.2"/>
<path d="M1066.9 297.9 L1067.7 305.0 L1068.7 312.2 L1069.9 319.4 L1071.5 326.5 L1073.5 333.7 L1075.9 340.8 L1078.9 348.0 L1082.4 355.2 L1086.7 362.3 L1091.7 369.5 L1097.5 376.6 L1104.2 383.8 L1111.7 391.0 L1120.2 398.1 L1129.5 405.3 L1139.6 412.4 L1150.4 419.6 L1161.8 426.8 L1173.6 433.9 L1185.7 441.1 L1197.8 448.2 L1209.6 455.4 L1220.8 462.6 L1231.3 469.7 L1240.8 476.9 L1248.9 484.0 L1255.4 491.2 L1260.2 498.4 L1263.2 505.5 L1264.2 512.7 L1263.2 519.8 L1260.2 527.0 L1255.4 534.2 L1248.9 541.3 L1240.8 548.5 L1231.3 555.6 L1220.8 562.8 L1209.6 570.0 L1197.8 577.1 L1185.7 584.3 L1173.6 591.4 L1161.8 598.6 L1150.4 605.8 L1139.6 612.9 L1129.5 620.1 L1120.2 627.2 L1111.7 634.4 L1104.2 641.6 L1097.5 648.7 L1091.7 655.9 L1086.7 663.0 L1082.4 670.2 L1078.9 677.4 L1075.9 684.5 L1073.5 691.7 L1071.5 698.8 L1069.9 706.0 L1068.7 713.2 L1067.7 720.3 L1066.9 727.5" fill="none" stroke="rgb(125,228,130)" stroke-opacity="0.6" stroke-width="1.7"/>
<path d="M1126.3 280.0 L1128.5 280.0 L1129.3 287.1 L1130.3 294.3 L1131.5 301.5 L1133.1 308.6 L1135.1 315.8 L1137.5 322.9 L1140.5 330.1 L1144.0 337.3 L1148.3 344.4 L1153.3 351.6 L1159.1 358.7 L1165.8 365.9 L1173.3 373.1 L1181.8 380.2 L1191.1 387.4 L1201.2 394.5 L1212.0 401.7 L1223.4 408.9 L1235.2 416.0 L1247.3 423.2 L1259.4 430.3 L1271.2 437.5 L1282.4 444.7 L1292.9 451.8 L1302.4 459.0 L1310.5 466.1 L1317.0 473.3 L1321.8 480.5 L1324.8 487.6 L1325.8 494.8 L1324.8 501.9 L1321.8 509.1 L1317.0 516.3 L1310.5 523.4 L1302.4 530.6 L1292.9 537.7 L1282.4 544.9 L1271.2 552.1 L1259.4 559.2 L1247.3 566.4 L1235.2 573.5 L1223.4 580.7 L1212.0 587.9 L1201.2 595.0 L1191.1 602.2 L1181.8 609.3 L1173.3 616.5 L1165.8 623.7 L1159.1 630.8 L1153.3 638.0 L1148.3 645.1 L1144.0 652.3 L1140.5 659.5 L1137.5 666.6 L1135.1 673.8 L1133.1 680.9 L1131.5 688.1 L1130.3 695.3 L1129.3 702.4 L1128.5 709.6 L1126.3 709.6 Z" fill="rgb(38,171,48)" fill-opacity="0.335" stroke="rgb(80,200,90)" stroke-opacity="0.07" stroke-width="1.2"/>
<path d="M1128.5 280.0 L1129.3 287.1 L1130.3 294.3 L1131.5 301.5 L1133.1 308.6 L1135.1 315.8 L1137.5 322.9 L1140.5 330.1 L1144.0 337.3 L1148.3 344.4 L1153.3 351.6 L1159.1 358.7 L1165.8 365.9 L1173.3 373.1 L1181.8 380.2 L1191.1 387.4 L1201.2 394.5 L1212.0 401.7 L1223.4 408.9 L1235.2 416.0 L1247.3 423.2 L1259.4 430.3 L1271.2 437.5 L1282.4 444.7 L1292.9 451.8 L1302.4 459.0 L1310.5 466.1 L1317.0 473.3 L1321.8 480.5 L1324.8 487.6 L1325.8 494.8 L1324.8 501.9 L1321.8 509.1 L1317.0 516.3 L1310.5 523.4 L1302.4 530.6 L1292.9 537.7 L1282.4 544.9 L1271.2 552.1 L1259.4 559.2 L1247.3 566.4 L1235.2 573.5 L1223.4 580.7 L1212.0 587.9 L1201.2 595.0 L1191.1 602.2 L1181.8 609.3 L1173.3 616.5 L1165.8 623.7 L1159.1 630.8 L1153.3 638.0 L1148.3 645.1 L1144.0 652.3 L1140.5 659.5 L1137.5 666.6 L1135.1 673.8 L1133.1 680.9 L1131.5 688.1 L1130.3 695.3 L1129.3 702.4 L1128.5 709.6" fill="none" stroke="rgb(125,228,130)" stroke-opacity="0.6" stroke-width="1.7"/>
<path d="M1152.0 272.5 L1154.2 272.5 L1155.0 279.7 L1156.0 286.8 L1157.2 294.0 L1158.8 301.2 L1160.8 308.3 L1163.2 315.5 L1166.2 322.6 L1169.7 329.8 L1174.0 337.0 L1179.0 344.1 L1184.8 351.3 L1191.5 358.4 L1199.0 365.6 L1207.5 372.8 L1216.8 379.9 L1226.9 387.1 L1237.7 394.2 L1249.1 401.4 L1260.9 408.6 L1273.0 415.7 L1285.1 422.9 L1296.9 430.0 L1308.1 437.2 L1318.6 444.4 L1328.1 451.5 L1336.2 458.7 L1342.7 465.8 L1347.5 473.0 L1350.5 480.2 L1351.5 487.3 L1350.5 494.5 L1347.5 501.6 L1342.7 508.8 L1336.2 516.0 L1328.1 523.1 L1318.6 530.3 L1308.1 537.4 L1296.9 544.6 L1285.1 551.8 L1273.0 558.9 L1260.9 566.1 L1249.1 573.2 L1237.7 580.4 L1226.9 587.6 L1216.8 594.7 L1207.5 601.9 L1199.0 609.0 L1191.5 616.2 L1184.8 623.4 L1179.0 630.5 L1174.0 637.7 L1169.7 644.8 L1166.2 652.0 L1163.2 659.2 L1160.8 666.3 L1158.8 673.5 L1157.2 680.6 L1156.0 687.8 L1155.0 695.0 L1154.2 702.1 L1152.0 702.1 Z" fill="rgb(38,171,48)" fill-opacity="0.335" stroke="rgb(80,200,90)" stroke-opacity="0.07" stroke-width="1.2"/>
<path d="M1154.2 272.5 L1155.0 279.7 L1156.0 286.8 L1157.2 294.0 L1158.8 301.2 L1160.8 308.3 L1163.2 315.5 L1166.2 322.6 L1169.7 329.8 L1174.0 337.0 L1179.0 344.1 L1184.8 351.3 L1191.5 358.4 L1199.0 365.6 L1207.5 372.8 L1216.8 379.9 L1226.9 387.1 L1237.7 394.2 L1249.1 401.4 L1260.9 408.6 L1273.0 415.7 L1285.1 422.9 L1296.9 430.0 L1308.1 437.2 L1318.6 444.4 L1328.1 451.5 L1336.2 458.7 L1342.7 465.8 L1347.5 473.0 L1350.5 480.2 L1351.5 487.3 L1350.5 494.5 L1347.5 501.6 L1342.7 508.8 L1336.2 516.0 L1328.1 523.1 L1318.6 530.3 L1308.1 537.4 L1296.9 544.6 L1285.1 551.8 L1273.0 558.9 L1260.9 566.1 L1249.1 573.2 L1237.7 580.4 L1226.9 587.6 L1216.8 594.7 L1207.5 601.9 L1199.0 609.0 L1191.5 616.2 L1184.8 623.4 L1179.0 630.5 L1174.0 637.7 L1169.7 644.8 L1166.2 652.0 L1163.2 659.2 L1160.8 666.3 L1158.8 673.5 L1157.2 680.6 L1156.0 687.8 L1155.0 695.0 L1154.2 702.1" fill="none" stroke="rgb(125,228,130)" stroke-opacity="0.6" stroke-width="1.7"/>
<path d="M1216.3 253.8 L1218.5 253.8 L1219.3 261.0 L1220.3 268.2 L1221.5 275.3 L1223.1 282.5 L1225.1 289.6 L1227.5 296.8 L1230.5 304.0 L1234.0 311.1 L1238.3 318.3 L1243.3 325.4 L1249.1 332.6 L1255.8 339.8 L1263.3 346.9 L1271.8 354.1 L1281.1 361.2 L1291.2 368.4 L1302.0 375.6 L1313.4 382.7 L1325.2 389.9 L1337.3 397.0 L1349.4 404.2 L1361.2 411.4 L1372.4 418.5 L1382.9 425.7 L1392.4 432.8 L1400.5 440.0 L1407.0 447.2 L1411.8 454.3 L1414.8 461.5 L1415.8 468.6 L1414.8 475.8 L1411.8 483.0 L1407.0 490.1 L1400.5 497.3 L1392.4 504.4 L1382.9 511.6 L1372.4 518.8 L1361.2 525.9 L1349.4 533.1 L1337.3 540.2 L1325.2 547.4 L1313.4 554.6 L1302.0 561.7 L1291.2 568.9 L1281.1 576.0 L1271.8 583.2 L1263.3 590.4 L1255.8 597.5 L1249.1 604.7 L1243.3 611.8 L1238.3 619.0 L1234.0 626.2 L1230.5 633.3 L1227.5 640.5 L1225.1 647.6 L1223.1 654.8 L1221.5 662.0 L1220.3 669.1 L1219.3 676.3 L1218.5 683.4 L1216.3 683.4 Z" fill="rgb(38,171,48)" fill-opacity="0.335" stroke="rgb(80,200,90)" stroke-opacity="0.07" stroke-width="1.2"/>
<path d="M1218.5 253.8 L1219.3 261.0 L1220.3 268.2 L1221.5 275.3 L1223.1 282.5 L1225.1 289.6 L1227.5 296.8 L1230.5 304.0 L1234.0 311.1 L1238.3 318.3 L1243.3 325.4 L1249.1 332.6 L1255.8 339.8 L1263.3 346.9 L1271.8 354.1 L1281.1 361.2 L1291.2 368.4 L1302.0 375.6 L1313.4 382.7 L1325.2 389.9 L1337.3 397.0 L1349.4 404.2 L1361.2 411.4 L1372.4 418.5 L1382.9 425.7 L1392.4 432.8 L1400.5 440.0 L1407.0 447.2 L1411.8 454.3 L1414.8 461.5 L1415.8 468.6 L1414.8 475.8 L1411.8 483.0 L1407.0 490.1 L1400.5 497.3 L1392.4 504.4 L1382.9 511.6 L1372.4 518.8 L1361.2 525.9 L1349.4 533.1 L1337.3 540.2 L1325.2 547.4 L1313.4 554.6 L1302.0 561.7 L1291.2 568.9 L1281.1 576.0 L1271.8 583.2 L1263.3 590.4 L1255.8 597.5 L1249.1 604.7 L1243.3 611.8 L1238.3 619.0 L1234.0 626.2 L1230.5 633.3 L1227.5 640.5 L1225.1 647.6 L1223.1 654.8 L1221.5 662.0 L1220.3 669.1 L1219.3 676.3 L1218.5 683.4" fill="none" stroke="rgb(125,228,130)" stroke-opacity="0.6" stroke-width="1.7"/>
<path d="M1233.2 248.9 L1235.4 248.9 L1236.2 256.1 L1237.2 263.2 L1238.4 270.4 L1240.0 277.6 L1242.0 284.7 L1244.4 291.9 L1247.4 299.0 L1250.9 306.2 L1255.2 313.4 L1260.2 320.5 L1266.0 327.7 L1272.7 334.8 L1280.2 342.0 L1288.7 349.2 L1298.0 356.3 L1308.1 363.5 L1318.9 370.6 L1330.3 377.8 L1342.1 385.0 L1354.2 392.1 L1366.3 399.3 L1378.1 406.4 L1389.3 413.6 L1399.8 420.8 L1409.3 427.9 L1417.4 435.1 L1423.9 442.2 L1428.7 449.4 L1431.7 456.6 L1432.7 463.7 L1431.7 470.9 L1428.7 478.0 L1423.9 485.2 L1417.4 492.4 L1409.3 499.5 L1399.8 506.7 L1389.3 513.8 L1378.1 521.0 L1366.3 528.2 L1354.2 535.3 L1342.1 542.5 L1330.3 549.6 L1318.9 556.8 L1308.1 564.0 L1298.0 571.1 L1288.7 578.3 L1280.2 585.4 L1272.7 592.6 L1266.0 599.8 L1260.2 606.9 L1255.2 614.1 L1250.9 621.2 L1247.4 628.4 L1244.4 635.6 L1242.0 642.7 L1240.0 649.9 L1238.4 657.0 L1237.2 664.2 L1236.2 671.4 L1235.4 678.5 L1233.2 678.5 Z" fill="rgb(38,171,48)" fill-opacity="0.335" stroke="rgb(80,200,90)" stroke-opacity="0.07" stroke-width="1.2"/>
<path d="M1235.4 248.9 L1236.2 256.1 L1237.2 263.2 L1238.4 270.4 L1240.0 277.6 L1242.0 284.7 L1244.4 291.9 L1247.4 299.0 L1250.9 306.2 L1255.2 313.4 L1260.2 320.5 L1266.0 327.7 L1272.7 334.8 L1280.2 342.0 L1288.7 349.2 L1298.0 356.3 L1308.1 363.5 L1318.9 370.6 L1330.3 377.8 L1342.1 385.0 L1354.2 392.1 L1366.3 399.3 L1378.1 406.4 L1389.3 413.6 L1399.8 420.8 L1409.3 427.9 L1417.4 435.1 L1423.9 442.2 L1428.7 449.4 L1431.7 456.6 L1432.7 463.7 L1431.7 470.9 L1428.7 478.0 L1423.9 485.2 L1417.4 492.4 L1409.3 499.5 L1399.8 506.7 L1389.3 513.8 L1378.1 521.0 L1366.3 528.2 L1354.2 535.3 L1342.1 542.5 L1330.3 549.6 L1318.9 556.8 L1308.1 564.0 L1298.0 571.1 L1288.7 578.3 L1280.2 585.4 L1272.7 592.6 L1266.0 599.8 L1260.2 606.9 L1255.2 614.1 L1250.9 621.2 L1247.4 628.4 L1244.4 635.6 L1242.0 642.7 L1240.0 649.9 L1238.4 657.0 L1237.2 664.2 L1236.2 671.4 L1235.4 678.5" fill="none" stroke="rgb(125,228,130)" stroke-opacity="0.6" stroke-width="1.7"/>
<path d="M1270.4 238.1 L1272.6 238.1 L1273.4 245.3 L1274.4 252.4 L1275.6 259.6 L1277.2 266.8 L1279.2 273.9 L1281.6 281.1 L1284.6 288.2 L1288.1 295.4 L1292.4 302.6 L1297.4 309.7 L1303.2 316.9 L1309.9 324.0 L1317.4 331.2 L1325.9 338.4 L1335.2 345.5 L1345.3 352.7 L1356.1 359.8 L1367.5 367.0 L1379.3 374.2 L1391.4 381.3 L1403.5 388.5 L1415.3 395.6 L1426.5 402.8 L1437.0 410.0 L1446.5 417.1 L1454.6 424.3 L1461.1 431.4 L1465.9 438.6 L1468.9 445.8 L1469.9 452.9 L1468.9 460.1 L1465.9 467.2 L1461.1 474.4 L1454.6 481.6 L1446.5 488.7 L1437.0 495.9 L1426.5 503.0 L1415.3 510.2 L1403.5 517.4 L1391.4 524.5 L1379.3 531.7 L1367.5 538.8 L1356.1 546.0 L1345.3 553.2 L1335.2 560.3 L1325.9 567.5 L1317.4 574.6 L1309.9 581.8 L1303.2 589.0 L1297.4 596.1 L1292.4 603.3 L1288.1 610.4 L1284.6 617.6 L1281.6 624.8 L1279.2 631.9 L1277.2 639.1 L1275.6 646.2 L1274.4 653.4 L1273.4 660.6 L1272.6 667.7 L1270.4 667.7 Z" fill="rgb(38,171,48)" fill-opacity="0.335" stroke="rgb(80,200,90)" stroke-opacity="0.07" stroke-width="1.2"/>
<path d="M1272.6 238.1 L1273.4 245.3 L1274.4 252.4 L1275.6 259.6 L1277.2 266.8 L1279.2 273.9 L1281.6 281.1 L1284.6 288.2 L1288.1 295.4 L1292.4 302.6 L1297.4 309.7 L1303.2 316.9 L1309.9 324.0 L1317.4 331.2 L1325.9 338.4 L1335.2 345.5 L1345.3 352.7 L1356.1 359.8 L1367.5 367.0 L1379.3 374.2 L1391.4 381.3 L1403.5 388.5 L1415.3 395.6 L1426.5 402.8 L1437.0 410.0 L1446.5 417.1 L1454.6 424.3 L1461.1 431.4 L1465.9 438.6 L1468.9 445.8 L1469.9 452.9 L1468.9 460.1 L1465.9 467.2 L1461.1 474.4 L1454.6 481.6 L1446.5 488.7 L1437.0 495.9 L1426.5 503.0 L1415.3 510.2 L1403.5 517.4 L1391.4 524.5 L1379.3 531.7 L1367.5 538.8 L1356.1 546.0 L1345.3 553.2 L1335.2 560.3 L1325.9 567.5 L1317.4 574.6 L1309.9 581.8 L1303.2 589.0 L1297.4 596.1 L1292.4 603.3 L1288.1 610.4 L1284.6 617.6 L1281.6 624.8 L1279.2 631.9 L1277.2 639.1 L1275.6 646.2 L1274.4 653.4 L1273.4 660.6 L1272.6 667.7" fill="none" stroke="rgb(125,228,130)" stroke-opacity="0.6" stroke-width="1.7"/>
<path d="M1313.0 225.7 L1315.2 225.7 L1316.0 232.9 L1317.0 240.1 L1318.2 247.2 L1319.8 254.4 L1321.8 261.5 L1324.2 268.7 L1327.2 275.9 L1330.7 283.0 L1335.0 290.2 L1340.0 297.3 L1345.8 304.5 L1352.5 311.7 L1360.0 318.8 L1368.5 326.0 L1377.8 333.1 L1387.9 340.3 L1398.7 347.5 L1410.1 354.6 L1421.9 361.8 L1434.0 368.9 L1446.1 376.1 L1457.9 383.3 L1469.1 390.4 L1479.6 397.6 L1489.1 404.7 L1497.2 411.9 L1503.7 419.1 L1508.5 426.2 L1511.5 433.4 L1512.5 440.5 L1511.5 447.7 L1508.5 454.9 L1503.7 462.0 L1497.2 469.2 L1489.1 476.3 L1479.6 483.5 L1469.1 490.7 L1457.9 497.8 L1446.1 505.0 L1434.0 512.1 L1421.9 519.3 L1410.1 526.5 L1398.7 533.6 L1387.9 540.8 L1377.8 547.9 L1368.5 555.1 L1360.0 562.3 L1352.5 569.4 L1345.8 576.6 L1340.0 583.7 L1335.0 590.9 L1330.7 598.1 L1327.2 605.2 L1324.2 612.4 L1321.8 619.5 L1319.8 626.7 L1318.2 633.9 L1317.0 641.0 L1316.0 648.2 L1315.2 655.3 L1313.0 655.3 Z" fill="rgb(38,171,48)" fill-opacity="0.335" stroke="rgb(80,200,90)" stroke-opacity="0.07" stroke-width="1.2"/>
<path d="M1315.2 225.7 L1316.0 232.9 L1317.0 240.1 L1318.2 247.2 L1319.8 254.4 L1321.8 261.5 L1324.2 268.7 L1327.2 275.9 L1330.7 283.0 L1335.0 290.2 L1340.0 297.3 L1345.8 304.5 L1352.5 311.7 L1360.0 318.8 L1368.5 326.0 L1377.8 333.1 L1387.9 340.3 L1398.7 347.5 L1410.1 354.6 L1421.9 361.8 L1434.0 368.9 L1446.1 376.1 L1457.9 383.3 L1469.1 390.4 L1479.6 397.6 L1489.1 404.7 L1497.2 411.9 L1503.7 419.1 L1508.5 426.2 L1511.5 433.4 L1512.5 440.5 L1511.5 447.7 L1508.5 454.9 L1503.7 462.0 L1497.2 469.2 L1489.1 476.3 L1479.6 483.5 L1469.1 490.7 L1457.9 497.8 L1446.1 505.0 L1434.0 512.1 L1421.9 519.3 L1410.1 526.5 L1398.7 533.6 L1387.9 540.8 L1377.8 547.9 L1368.5 555.1 L1360.0 562.3 L1352.5 569.4 L1345.8 576.6 L1340.0 583.7 L1335.0 590.9 L1330.7 598.1 L1327.2 605.2 L1324.2 612.4 L1321.8 619.5 L1319.8 626.7 L1318.2 633.9 L1317.0 641.0 L1316.0 648.2 L1315.2 655.3" fill="none" stroke="rgb(125,228,130)" stroke-opacity="0.6" stroke-width="1.7"/>
<path d="M1560.7 153.8 L1562.9 153.8 L1563.7 160.9 L1564.7 168.1 L1565.9 175.2 L1567.5 182.4 L1569.5 189.6 L1571.9 196.7 L1574.9 203.9 L1578.4 211.0 L1582.7 218.2 L1587.7 225.4 L1593.5 232.5 L1600.2 239.7 L1607.7 246.8 L1616.2 254.0 L1625.5 261.2 L1635.6 268.3 L1646.4 275.5 L1657.8 282.6 L1669.6 289.8 L1681.7 297.0 L1693.8 304.1 L1705.6 311.3 L1716.8 318.4 L1727.3 325.6 L1736.8 332.8 L1744.9 339.9 L1751.4 347.1 L1756.2 354.2 L1759.2 361.4 L1760.2 368.6 L1759.2 375.7 L1756.2 382.9 L1751.4 390.0 L1744.9 397.2 L1736.8 404.4 L1727.3 411.5 L1716.8 418.7 L1705.6 425.8 L1693.8 433.0 L1681.7 440.2 L1669.6 447.3 L1657.8 454.5 L1646.4 461.6 L1635.6 468.8 L1625.5 476.0 L1616.2 483.1 L1607.7 490.3 L1600.2 497.4 L1593.5 504.6 L1587.7 511.8 L1582.7 518.9 L1578.4 526.1 L1574.9 533.2 L1571.9 540.4 L1569.5 547.6 L1567.5 554.7 L1565.9 561.9 L1564.7 569.0 L1563.7 576.2 L1562.9 583.4 L1560.7 583.4 Z" fill="rgb(38,171,48)" fill-opacity="0.335" stroke="rgb(80,200,90)" stroke-opacity="0.07" stroke-width="1.2"/>
<path d="M1562.9 153.8 L1563.7 160.9 L1564.7 168.1 L1565.9 175.2 L1567.5 182.4 L1569.5 189.6 L1571.9 196.7 L1574.9 203.9 L1578.4 211.0 L1582.7 218.2 L1587.7 225.4 L1593.5 232.5 L1600.2 239.7 L1607.7 246.8 L1616.2 254.0 L1625.5 261.2 L1635.6 268.3 L1646.4 275.5 L1657.8 282.6 L1669.6 289.8 L1681.7 297.0 L1693.8 304.1 L1705.6 311.3 L1716.8 318.4 L1727.3 325.6 L1736.8 332.8 L1744.9 339.9 L1751.4 347.1 L1756.2 354.2 L1759.2 361.4 L1760.2 368.6 L1759.2 375.7 L1756.2 382.9 L1751.4 390.0 L1744.9 397.2 L1736.8 404.4 L1727.3 411.5 L1716.8 418.7 L1705.6 425.8 L1693.8 433.0 L1681.7 440.2 L1669.6 447.3 L1657.8 454.5 L1646.4 461.6 L1635.6 468.8 L1625.5 476.0 L1616.2 483.1 L1607.7 490.3 L1600.2 497.4 L1593.5 504.6 L1587.7 511.8 L1582.7 518.9 L1578.4 526.1 L1574.9 533.2 L1571.9 540.4 L1569.5 547.6 L1567.5 554.7 L1565.9 561.9 L1564.7 569.0 L1563.7 576.2 L1562.9 583.4" fill="none" stroke="rgb(125,228,130)" stroke-opacity="0.6" stroke-width="1.7"/>
<path d="M1581.5 147.7 L1583.7 147.7 L1584.5 154.9 L1585.5 162.0 L1586.7 169.2 L1588.3 176.4 L1590.3 183.5 L1592.7 190.7 L1595.7 197.8 L1599.2 205.0 L1603.5 212.2 L1608.5 219.3 L1614.3 226.5 L1621.0 233.6 L1628.5 240.8 L1637.0 248.0 L1646.3 255.1 L1656.4 262.3 L1667.2 269.4 L1678.6 276.6 L1690.4 283.8 L1702.5 290.9 L1714.6 298.1 L1726.4 305.2 L1737.6 312.4 L1748.1 319.6 L1757.6 326.7 L1765.7 333.9 L1772.2 341.0 L1777.0 348.2 L1780.0 355.4 L1781.0 362.5 L1780.0 369.7 L1777.0 376.8 L1772.2 384.0 L1765.7 391.2 L1757.6 398.3 L1748.1 405.5 L1737.6 412.6 L1726.4 419.8 L1714.6 427.0 L1702.5 434.1 L1690.4 441.3 L1678.6 448.4 L1667.2 455.6 L1656.4 462.8 L1646.3 469.9 L1637.0 477.1 L1628.5 484.2 L1621.0 491.4 L1614.3 498.6 L1608.5 505.7 L1603.5 512.9 L1599.2 520.0 L1595.7 527.2 L1592.7 534.4 L1590.3 541.5 L1588.3 548.7 L1586.7 555.8 L1585.5 563.0 L1584.5 570.2 L1583.7 577.3 L1581.5 577.3 Z" fill="rgb(38,171,48)" fill-opacity="0.335" stroke="rgb(80,200,90)" stroke-opacity="0.07" stroke-width="1.2"/>
<path d="M1583.7 147.7 L1584.5 154.9 L1585.5 162.0 L1586.7 169.2 L1588.3 176.4 L1590.3 183.5 L1592.7 190.7 L1595.7 197.8 L1599.2 205.0 L1603.5 212.2 L1608.5 219.3 L1614.3 226.5 L1621.0 233.6 L1628.5 240.8 L1637.0 248.0 L1646.3 255.1 L1656.4 262.3 L1667.2 269.4 L1678.6 276.6 L1690.4 283.8 L1702.5 290.9 L1714.6 298.1 L1726.4 305.2 L1737.6 312.4 L1748.1 319.6 L1757.6 326.7 L1765.7 333.9 L1772.2 341.0 L1777.0 348.2 L1780.0 355.4 L1781.0 362.5 L1780.0 369.7 L1777.0 376.8 L1772.2 384.0 L1765.7 391.2 L1757.6 398.3 L1748.1 405.5 L1737.6 412.6 L1726.4 419.8 L1714.6 427.0 L1702.5 434.1 L1690.4 441.3 L1678.6 448.4 L1667.2 455.6 L1656.4 462.8 L1646.3 469.9 L1637.0 477.1 L1628.5 484.2 L1621.0 491.4 L1614.3 498.6 L1608.5 505.7 L1603.5 512.9 L1599.2 520.0 L1595.7 527.2 L1592.7 534.4 L1590.3 541.5 L1588.3 548.7 L1586.7 555.8 L1585.5 563.0 L1584.5 570.2 L1583.7 577.3" fill="none" stroke="rgb(125,228,130)" stroke-opacity="0.6" stroke-width="1.7"/>
<path d="M1600.6 142.2 L1602.8 142.2 L1603.6 149.3 L1604.6 156.5 L1605.8 163.7 L1607.4 170.8 L1609.4 178.0 L1611.8 185.1 L1614.8 192.3 L1618.3 199.5 L1622.6 206.6 L1627.6 213.8 L1633.4 220.9 L1640.1 228.1 L1647.6 235.3 L1656.1 242.4 L1665.4 249.6 L1675.5 256.7 L1686.3 263.9 L1697.7 271.1 L1709.5 278.2 L1721.6 285.4 L1733.7 292.5 L1745.5 299.7 L1756.7 306.9 L1767.2 314.0 L1776.7 321.2 L1784.8 328.3 L1791.3 335.5 L1796.1 342.7 L1799.1 349.8 L1800.1 357.0 L1799.1 364.1 L1796.1 371.3 L1791.3 378.5 L1784.8 385.6 L1776.7 392.8 L1767.2 399.9 L1756.7 407.1 L1745.5 414.3 L1733.7 421.4 L1721.6 428.6 L1709.5 435.7 L1697.7 442.9 L1686.3 450.1 L1675.5 457.2 L1665.4 464.4 L1656.1 471.5 L1647.6 478.7 L1640.1 485.9 L1633.4 493.0 L1627.6 500.2 L1622.6 507.3 L1618.3 514.5 L1614.8 521.7 L1611.8 528.8 L1609.4 536.0 L1607.4 543.1 L1605.8 550.3 L1604.6 557.5 L1603.6 564.6 L1602.8 571.8 L1600.6 571.8 Z" fill="rgb(38,171,48)" fill-opacity="0.335" stroke="rgb(80,200,90)" stroke-opacity="0.07" stroke-width="1.2"/>
<path d="M1602.8 142.2 L1603.6 149.3 L1604.6 156.5 L1605.8 163.7 L1607.4 170.8 L1609.4 178.0 L1611.8 185.1 L1614.8 192.3 L1618.3 199.5 L1622.6 206.6 L1627.6 213.8 L1633.4 220.9 L1640.1 228.1 L1647.6 235.3 L1656.1 242.4 L1665.4 249.6 L1675.5 256.7 L1686.3 263.9 L1697.7 271.1 L1709.5 278.2 L1721.6 285.4 L1733.7 292.5 L1745.5 299.7 L1756.7 306.9 L1767.2 314.0 L1776.7 321.2 L1784.8 328.3 L1791.3 335.5 L1796.1 342.7 L1799.1 349.8 L1800.1 357.0 L1799.1 364.1 L1796.1 371.3 L1791.3 378.5 L1784.8 385.6 L1776.7 392.8 L1767.2 399.9 L1756.7 407.1 L1745.5 414.3 L1733.7 421.4 L1721.6 428.6 L1709.5 435.7 L1697.7 442.9 L1686.3 450.1 L1675.5 457.2 L1665.4 464.4 L1656.1 471.5 L1647.6 478.7 L1640.1 485.9 L1633.4 493.0 L1627.6 500.2 L1622.6 507.3 L1618.3 514.5 L1614.8 521.7 L1611.8 528.8 L1609.4 536.0 L1607.4 543.1 L1605.8 550.3 L1604.6 557.5 L1603.6 564.6 L1602.8 571.8" fill="none" stroke="rgb(125,228,130)" stroke-opacity="0.6" stroke-width="1.7"/>
<line x1="362" y1="716.849" x2="1800" y2="299.041" stroke="#d8d890" stroke-opacity="0.08" stroke-width="2.6"/>
<line x1="362.0" y1="780.0" x2="362.0" y2="716.8" stroke="#d8c0a8" stroke-opacity="0.2" stroke-width="2.2" stroke-dasharray="8 3.8"/>
<line x1="429.0" y1="653.0" x2="429.0" y2="697.4" stroke="#d8c0a8" stroke-opacity="0.2" stroke-width="2.2" stroke-dasharray="8 3.8"/>
<line x1="535.0" y1="615.0" x2="535.0" y2="666.6" stroke="#d8c0a8" stroke-opacity="0.2" stroke-width="2.2" stroke-dasharray="8 3.8"/>
<line x1="540.0" y1="743.0" x2="540.0" y2="665.1" stroke="#d8c0a8" stroke-opacity="0.2" stroke-width="2.2" stroke-dasharray="8 3.8"/>
<line x1="681.0" y1="588.0" x2="681.0" y2="624.2" stroke="#d8c0a8" stroke-opacity="0.2" stroke-width="2.2" stroke-dasharray="8 3.8"/>
<line x1="719.0" y1="612.5" x2="719.0" y2="613.1" stroke="#d8c0a8" stroke-opacity="0.2" stroke-width="2.2" stroke-dasharray="8 3.8"/>
<line x1="841.0" y1="505.5" x2="841.0" y2="577.7" stroke="#d8c0a8" stroke-opacity="0.2" stroke-width="2.2" stroke-dasharray="8 3.8"/>
<line x1="847.4" y1="683.0" x2="847.4" y2="575.8" stroke="#d8c0a8" stroke-opacity="0.2" stroke-width="2.2" stroke-dasharray="8 3.8"/>
<line x1="875.0" y1="534.0" x2="875.0" y2="567.8" stroke="#d8c0a8" stroke-opacity="0.2" stroke-width="2.2" stroke-dasharray="8 3.8"/>
<line x1="874.0" y1="625.3" x2="874.0" y2="568.1" stroke="#d8c0a8" stroke-opacity="0.2" stroke-width="2.2" stroke-dasharray="8 3.8"/>
<line x1="876.5" y1="637.0" x2="876.5" y2="567.4" stroke="#d8c0a8" stroke-opacity="0.2" stroke-width="2.2" stroke-dasharray="8 3.8"/>
<line x1="958.0" y1="548.0" x2="958.0" y2="543.7" stroke="#d8c0a8" stroke-opacity="0.2" stroke-width="2.2" stroke-dasharray="8 3.8"/>
<line x1="961.0" y1="560.0" x2="961.0" y2="542.8" stroke="#d8c0a8" stroke-opacity="0.2" stroke-width="2.2" stroke-dasharray="8 3.8"/>
<line x1="957.5" y1="571.0" x2="957.5" y2="543.8" stroke="#d8c0a8" stroke-opacity="0.2" stroke-width="2.2" stroke-dasharray="8 3.8"/>
<line x1="992.0" y1="600.6" x2="992.0" y2="533.8" stroke="#d8c0a8" stroke-opacity="0.2" stroke-width="2.2" stroke-dasharray="8 3.8"/>
<line x1="1064.7" y1="423.6" x2="1064.7" y2="512.7" stroke="#d8c0a8" stroke-opacity="0.2" stroke-width="2.2" stroke-dasharray="8 3.8"/>
<line x1="1126.3" y1="623.0" x2="1126.3" y2="494.8" stroke="#d8c0a8" stroke-opacity="0.2" stroke-width="2.2" stroke-dasharray="8 3.8"/>
<line x1="1152.0" y1="484.0" x2="1152.0" y2="487.3" stroke="#d8c0a8" stroke-opacity="0.2" stroke-width="2.2" stroke-dasharray="8 3.8"/>
<line x1="1216.3" y1="451.2" x2="1216.3" y2="468.6" stroke="#d8c0a8" stroke-opacity="0.2" stroke-width="2.2" stroke-dasharray="8 3.8"/>
<line x1="1233.2" y1="396.0" x2="1233.2" y2="463.7" stroke="#d8c0a8" stroke-opacity="0.2" stroke-width="2.2" stroke-dasharray="8 3.8"/>
<line x1="1270.4" y1="417.7" x2="1270.4" y2="452.9" stroke="#d8c0a8" stroke-opacity="0.2" stroke-width="2.2" stroke-dasharray="8 3.8"/>
<line x1="1313.0" y1="434.2" x2="1313.0" y2="440.5" stroke="#d8c0a8" stroke-opacity="0.2" stroke-width="2.2" stroke-dasharray="8 3.8"/>
<line x1="1560.7" y1="419.8" x2="1560.7" y2="368.6" stroke="#d8c0a8" stroke-opacity="0.2" stroke-width="2.2" stroke-dasharray="8 3.8"/>
<line x1="1581.5" y1="405.4" x2="1581.5" y2="362.5" stroke="#d8c0a8" stroke-opacity="0.2" stroke-width="2.2" stroke-dasharray="8 3.8"/>
<line x1="1600.6" y1="225.2" x2="1600.6" y2="357.0" stroke="#d8c0a8" stroke-opacity="0.2" stroke-width="2.2" stroke-dasharray="8 3.8"/>
<circle cx="362.0" cy="716.8" r="4.8" fill="#f5d414"/>
<circle cx="429.0" cy="697.4" r="4.8" fill="#f5d414"/>
<circle cx="535.0" cy="666.6" r="4.8" fill="#f5d414"/>
<circle cx="540.0" cy="665.1" r="4.8" fill="#f5d414"/>
<circle cx="681.0" cy="624.2" r="4.8" fill="#f5d414"/>
<circle cx="719.0" cy="613.1" r="4.8" fill="#f5d414"/>
<circle cx="841.0" cy="577.7" r="4.8" fill="#f5d414"/>
<circle cx="847.4" cy="575.8" r="4.8" fill="#f5d414"/>
<circle cx="875.0" cy="567.8" r="4.8" fill="#f5d414"/>
<circle cx="874.0" cy="568.1" r="4.8" fill="#f5d414"/>
<circle cx="876.5" cy="567.4" r="4.8" fill="#f5d414"/>
<circle cx="958.0" cy="543.7" r="4.8" fill="#f5d414"/>
<circle cx="961.0" cy="542.8" r="4.8" fill="#f5d414"/>
<circle cx="957.5" cy="543.8" r="4.8" fill="#f5d414"/>
<circle cx="992.0" cy="533.8" r="4.8" fill="#f5d414"/>
<circle cx="1064.7" cy="512.7" r="4.8" fill="#f5d414"/>
<circle cx="1126.3" cy="494.8" r="4.8" fill="#f5d414"/>
<circle cx="1152.0" cy="487.3" r="4.8" fill="#f5d414"/>
<circle cx="1216.3" cy="468.6" r="4.8" fill="#f5d414"/>
<circle cx="1233.2" cy="463.7" r="4.8" fill="#f5d414"/>
<circle cx="1270.4" cy="452.9" r="4.8" fill="#f5d414"/>
<circle cx="1313.0" cy="440.5" r="4.8" fill="#f5d414"/>
<circle cx="1560.7" cy="368.6" r="4.8" fill="#f5d414"/>
<circle cx="1581.5" cy="362.5" r="4.8" fill="#f5d414"/>
<circle cx="1600.6" cy="357.0" r="4.8" fill="#f5d414"/>
<circle cx="362.0" cy="780.0" r="5.1" fill="#2694e4" stroke="#e0f4fb" stroke-width="2.8"/>
<circle cx="429.0" cy="653.0" r="5.1" fill="#2694e4" stroke="#e0f4fb" stroke-width="2.8"/>
<circle cx="535.0" cy="615.0" r="5.1" fill="#2694e4" stroke="#e0f4fb" stroke-width="2.8"/>
<circle cx="540.0" cy="743.0" r="5.1" fill="#2694e4" stroke="#e0f4fb" stroke-width="2.8"/>
<circle cx="681.0" cy="588.0" r="5.1" fill="#2694e4" stroke="#e0f4fb" stroke-width="2.8"/>
<circle cx="719.0" cy="612.5" r="5.1" fill="#2694e4" stroke="#e0f4fb" stroke-width="2.8"/>
<circle cx="841.0" cy="505.5" r="5.1" fill="#2694e4" stroke="#e0f4fb" stroke-width="2.8"/>
<circle cx="847.4" cy="683.0" r="5.1" fill="#2694e4" stroke="#e0f4fb" stroke-width="2.8"/>
<circle cx="875.0" cy="534.0" r="5.1" fill="#2694e4" stroke="#e0f4fb" stroke-width="2.8"/>
<circle cx="874.0" cy="625.3" r="5.1" fill="#2694e4" stroke="#e0f4fb" stroke-width="2.8"/>
<circle cx="876.5" cy="637.0" r="5.1" fill="#2694e4" stroke="#e0f4fb" stroke-width="2.8"/>
<circle cx="958.0" cy="548.0" r="5.1" fill="#2694e4" stroke="#e0f4fb" stroke-width="2.8"/>
<circle cx="961.0" cy="560.0" r="5.1" fill="#2694e4" stroke="#e0f4fb" stroke-width="2.8"/>
<circle cx="957.5" cy="571.0" r="5.1" fill="#2694e4" stroke="#e0f4fb" stroke-width="2.8"/>
<circle cx="992.0" cy="600.6" r="5.1" fill="#2694e4" stroke="#e0f4fb" stroke-width="2.8"/>
<circle cx="1064.7" cy="423.6" r="5.1" fill="#2694e4" stroke="#e0f4fb" stroke-width="2.8"/>
<circle cx="1126.3" cy="623.0" r="5.1" fill="#2694e4" stroke="#e0f4fb" stroke-width="2.8"/>
<circle cx="1152.0" cy="484.0" r="5.1" fill="#2694e4" stroke="#e0f4fb" stroke-width="2.8"/>
<circle cx="1216.3" cy="451.2" r="5.1" fill="#2694e4" stroke="#e0f4fb" stroke-width="2.8"/>
<circle cx="1233.2" cy="396.0" r="5.1" fill="#2694e4" stroke="#e0f4fb" stroke-width="2.8"/>
<circle cx="1270.4" cy="417.7" r="5.1" fill="#2694e4" stroke="#e0f4fb" stroke-width="2.8"/>
<circle cx="1313.0" cy="434.2" r="5.1" fill="#2694e4" stroke="#e0f4fb" stroke-width="2.8"/>
<circle cx="1560.7" cy="419.8" r="5.1" fill="#2694e4" stroke="#e0f4fb" stroke-width="2.8"/>
<circle cx="1581.5" cy="405.4" r="5.1" fill="#2694e4" stroke="#e0f4fb" stroke-width="2.8"/>
<circle cx="1600.6" cy="225.2" r="5.1" fill="#2694e4" stroke="#e0f4fb" stroke-width="2.8"/>
</g>
<g font-size="18.5">
<line x1="331.0" y1="948" x2="331.0" y2="951.5" stroke="#4a4a4a" stroke-width="1.2"/>
<text transform="translate(331.0,967) scale(1.0,1.05)" text-anchor="middle">140</text>
<line x1="567.2" y1="948" x2="567.2" y2="951.5" stroke="#4a4a4a" stroke-width="1.2"/>
<text transform="translate(567.2,967) scale(1.0,1.05)" text-anchor="middle">150</text>
<line x1="803.4" y1="948" x2="803.4" y2="951.5" stroke="#4a4a4a" stroke-width="1.2"/>
<text transform="translate(803.4,967) scale(1.0,1.05)" text-anchor="middle">160</text>
<line x1="1039.6" y1="948" x2="1039.6" y2="951.5" stroke="#4a4a4a" stroke-width="1.2"/>
<text transform="translate(1039.6,967) scale(1.0,1.05)" text-anchor="middle">170</text>
<line x1="1275.8" y1="948" x2="1275.8" y2="951.5" stroke="#4a4a4a" stroke-width="1.2"/>
<text transform="translate(1275.8,967) scale(1.0,1.05)" text-anchor="middle">180</text>
<line x1="1512.0" y1="948" x2="1512.0" y2="951.5" stroke="#4a4a4a" stroke-width="1.2"/>
<line x1="1748.2" y1="948" x2="1748.2" y2="951.5" stroke="#4a4a4a" stroke-width="1.2"/>
<line x1="111.5" y1="944.0" x2="114" y2="944.0" stroke="#4a4a4a" stroke-width="1.2"/>
<text transform="translate(108.5,950.9) scale(0.99,1.05)" text-anchor="end">40</text>
<line x1="111.5" y1="765.0" x2="114" y2="765.0" stroke="#4a4a4a" stroke-width="1.2"/>
<text transform="translate(108.5,771.9) scale(0.99,1.05)" text-anchor="end">60</text>
<line x1="111.5" y1="586.0" x2="114" y2="586.0" stroke="#4a4a4a" stroke-width="1.2"/>
<text transform="translate(108.5,592.9) scale(0.99,1.05)" text-anchor="end">80</text>
<line x1="111.5" y1="407.0" x2="114" y2="407.0" stroke="#4a4a4a" stroke-width="1.2"/>
<text transform="translate(108.5,413.9) scale(0.99,1.05)" text-anchor="end">100</text>
<line x1="111.5" y1="228.0" x2="114" y2="228.0" stroke="#4a4a4a" stroke-width="1.2"/>
<text transform="translate(108.5,234.9) scale(0.99,1.05)" text-anchor="end">120</text>
</g>
<text transform="translate(981.2,1003.9) scale(1.048,1.05)" font-size="24" text-anchor="middle">Height (cm)</text>
<text transform="translate(53.2,503.5) rotate(-90) scale(1.035,1.06)" font-size="24" text-anchor="middle">Weight (kg)</text>
<rect x="134" y="61.5" width="318" height="184.5" rx="10" ry="10" fill="#161616" stroke="#4a4a4a" stroke-width="1.4"/>
<g font-size="17.3">
<text transform="translate(148.7,90.0) scale(1.047,1)" style="stroke:#e6e6e6;stroke-width:.25">Maximum Likelihood Estimation</text>
<text transform="translate(148.7,109.7) scale(1.047,1)" style="stroke:#e6e6e6;stroke-width:.25">Progress: 96.0%</text>
<text transform="translate(148.7,148.8) scale(1.047,1)" style="stroke:#e6e6e6;stroke-width:.25">Slope (w): 0.768</text>
<text transform="translate(148.7,168.6) scale(1.047,1)" style="stroke:#e6e6e6;stroke-width:.25">Intercept (b): -43.2</text>
<text transform="translate(148.7,188.5) scale(1.047,1)" style="stroke:#e6e6e6;stroke-width:.25">Log-Likelihood: -19.2</text>
<text transform="translate(148.7,208.3) scale(1.047,1)" style="stroke:#e6e6e6;stroke-width:.25">MSE: 49.91</text>
<text transform="translate(148.7,228.1) scale(1.047,1)" style="stroke:#e6e6e6;stroke-width:.25">σ (noise): 8.0</text>
<text x="148.7" y="129.4" textLength="186" lengthAdjust="spacingAndGlyphs" style="stroke:#e6e6e6;stroke-width:.9">──────────────────</text>
</g>
<rect x="1552.8" y="62.4" width="274" height="63.6" rx="12" ry="12" fill="#191919" stroke="#3a7d3e" stroke-width="2"/>
<g font-size="16.3" text-anchor="end" style="fill:#3aa63f">
<text transform="translate(1813.5,89.2) scale(1.03,1)" style="fill:#36a03c;stroke:#36a03c">Optimal fit maximizes the</text>
<text transform="translate(1813.5,107.8) scale(1.03,1)" style="fill:#36a03c;stroke:#36a03c">likelihood of the observations</text>
</g>
<rect x="417" y="1027" width="1129.5" height="30" rx="3" ry="3" fill="#161616" stroke="#333" stroke-width="1.2"/>
<g font-size="16.8">
<rect x="423.0" y="1034.2" width="52" height="12.6" fill="#1ea5f2"/>
<text x="487.5" y="1045.8">Observed Data</text>
<rect x="646.0" y="1034.2" width="52" height="12.6" fill="#f46d3c"/>
<text x="710.0" y="1045.8">Regression Line</text>
<rect x="875.0" y="1034.2" width="52" height="12.6" fill="#1e6e2d"/>
<text x="939.0" y="1045.8">Gaussian Distributions</text>
<rect x="1160.7" y="1034.2" width="52" height="12.6" fill="#ffcf0a"/>
<text x="1224.0" y="1045.8">Predicted Means</text>
<rect x="1396.0" y="1034.2" width="52" height="12.6" fill="#ff69b0"/>
<text x="1459.6" y="1045.8">Residuals</text>
</g>
<g fill="none" stroke="#f4f4f4" stroke-width="2.3" stroke-linecap="round" stroke-linejoin="round" filter="url(#b1)">
<path d="M1188.5 70.9 C1188.9 74.0 1189.9 80.6 1191.1 89.5 C1192.2 98.4 1194.1 111.4 1195.4 124.0 C1196.7 136.7 1197.8 148.5 1198.9 165.4 C1199.9 182.4 1201.0 215.7 1201.4 225.8" stroke-width="3.3"/>
<path d="M1190.7 84.3 C1191.1 85.6 1192.2 89.4 1192.8 92.1 C1193.4 94.7 1194.3 98.9 1194.5 100.2" stroke-width="5.5"/>
<path d="M1154.0 178.4 C1151.3 177.2 1142.5 173.6 1137.6 171.5 C1132.7 169.3 1117.8 166.8 1124.7 165.4 C1131.6 164.1 1155.6 163.4 1179.0 163.4 C1202.4 163.4 1240.7 164.8 1265.3 165.4 C1289.9 166.1 1316.3 166.9 1326.5 167.1" stroke-width="3.0"/>
<path d="M1194.5 90.4 C1196.6 90.2 1202.9 89.2 1206.6 89.5 C1210.4 89.8 1213.5 92.4 1217.0 92.3 C1220.4 92.2 1224.4 89.7 1227.3 88.8 C1230.3 87.9 1233.4 87.1 1234.6 86.7" stroke-width="2.4"/>
<path d="M1242.9 86.4 C1244.0 86.1 1247.4 85.2 1249.8 84.7 C1252.1 84.2 1255.8 83.5 1257.0 83.3" stroke-width="1.6"/>
<path d="M1199.7 155.9 C1202.6 156.4 1211.8 158.7 1217.0 158.5 C1222.1 158.4 1227.0 157.4 1230.8 155.1 C1234.5 152.8 1237.2 149.3 1239.4 144.7 C1241.6 140.1 1242.5 133.8 1243.7 127.5 C1244.9 121.1 1245.3 113.1 1246.6 106.8 C1248.0 100.4 1249.6 94.0 1251.8 89.5 C1254.1 85.0 1257.3 81.9 1260.1 79.5 C1262.9 77.1 1265.6 75.9 1268.7 75.4 C1271.9 74.8 1276.2 74.6 1279.1 76.0 C1282.0 77.5 1284.0 79.8 1286.0 84.3 C1288.0 88.9 1289.1 96.7 1291.2 103.3 C1293.2 109.9 1295.2 117.7 1298.1 124.0 C1300.9 130.3 1305.2 136.1 1308.4 141.3 C1311.6 146.4 1314.5 151.1 1317.0 155.1 C1319.6 159.0 1321.8 163.4 1323.9 165.1 C1326.1 166.8 1328.0 166.7 1330.0 165.4 C1332.0 164.1 1334.3 159.7 1336.0 157.1 C1337.8 154.6 1339.8 151.1 1340.5 149.9" stroke-width="3.0"/>
<path d="M1272.2 67.9 C1271.5 71.0 1268.3 76.7 1267.9 86.1 C1267.4 95.4 1269.0 109.3 1269.6 124.0 C1270.2 138.7 1271.0 165.7 1271.3 174.0" stroke-width="3.0"/>
<path d="M1262.7 79.2 C1263.1 80.4 1264.5 84.3 1265.3 86.9 C1266.1 89.6 1267.0 93.7 1267.3 95.0" stroke-width="7.5"/>
<path d="M1439.4 121.3 C1435.2 120.8 1422.2 116.0 1414.2 117.9 C1406.2 119.8 1396.7 125.3 1391.3 132.8 C1386.0 140.2 1382.2 152.2 1382.2 162.5 C1382.2 172.8 1386.0 186.1 1391.3 194.5 C1396.7 202.9 1405.8 209.8 1414.2 212.8 C1422.6 215.9 1433.3 215.9 1441.7 212.8 C1450.0 209.8 1459.2 202.5 1464.5 194.5 C1469.9 186.5 1473.7 174.7 1473.7 164.8 C1473.7 154.9 1470.2 142.9 1464.5 135.1 C1458.8 127.2 1447.8 119.8 1439.4 117.9 C1431.0 116.0 1421.5 119.6 1414.2 123.6 C1407.0 127.6 1399.0 138.9 1395.9 141.9" stroke-width="3.6"/>
<path d="M1387.9 212.8 C1395.0 211.3 1415.9 207.9 1430.2 203.7 C1444.5 199.4 1466.4 189.9 1473.7 187.2" stroke-width="3.8"/>
<path d="M1400.5 207.8 C1409.3 205.6 1437.5 198.0 1453.1 194.5 C1468.7 191.1 1494.3 186.1 1494.3 187.2 C1494.3 188.3 1467.6 196.7 1453.1 201.4 C1438.6 206.0 1418.6 211.2 1407.3 215.1 C1396.1 219.0 1381.8 223.9 1385.6 224.7 C1389.4 225.6 1407.2 223.8 1430.2 220.1 C1453.3 216.4 1508.4 205.5 1524.0 202.5" stroke-width="4.0"/>
</g>
<g filter="url(#b1)" style="font-family:'DejaVu Sans','Liberation Sans',sans-serif;font-style:italic;font-weight:200">
<text transform="translate(1305,117) rotate(-27) skewX(-8)" font-size="36" style="fill:#f4f4f4;font-weight:200;stroke:#f4f4f4;stroke-width:1.1" textLength="56" lengthAdjust="spacingAndGlyphs">pdf</text>
<text transform="translate(1255,228) rotate(-19) skewX(-10)" font-size="41" style="fill:#f4f4f4;font-weight:200;stroke:#f4f4f4;stroke-width:1.1">ML<tspan font-size="26" dy="-6">=</tspan><tspan font-size="45" dy="9">μ</tspan></text>
<text transform="translate(1403,177) rotate(-3)" font-size="66" style="fill:#f4f4f4;font-weight:200;stroke:#f4f4f4;stroke-width:.8">y</text>
</g>
<path d="M701 619 C706 608 712 602 720 600.5 C729 599.5 732 607 731 614 C730 622 724 626 716 624.5 C709 623 707 615 711 607" fill="none" stroke="#eef2d0" stroke-width="1.8" stroke-linecap="round" filter="url(#b1)"/>
<circle cx="422.5" cy="829" r="1.6" fill="#ddd"/>
<circle cx="1618" cy="848.7" r="171" fill="none" stroke="#0c5a1e" stroke-width="7" filter="url(#b2)"/>
<circle cx="1618" cy="848.7" r="172" fill="#0c3f1a"/>
<g clip-path="url(#camclip)"><g filter="url(#cb)">
<rect x="1440" y="670" width="360" height="360" fill="#286634"/>
<rect x="1440" y="670" width="360" height="360" fill="url(#cg1)"/>
<rect x="1440" y="670" width="360" height="360" fill="url(#cg2)"/>
<rect x="1440" y="670" width="360" height="360" fill="url(#cg3)"/>
<path d="M1462.4 800.6 C1459.0 795.0 1467.1 777.0 1471.7 767.0 C1476.4 757.1 1483.2 746.8 1490.4 740.9 C1497.5 735.0 1507.5 731.1 1514.6 731.6 C1521.8 732.0 1531.0 739.0 1533.3 743.7 C1535.6 748.4 1530.0 753.2 1528.6 759.6 C1527.2 765.9 1525.3 775.4 1524.9 781.9 C1524.5 788.5 1527.9 795.0 1526.2 798.7 C1524.5 802.5 1520.3 804.0 1514.6 804.3 C1509.0 804.6 1500.9 801.2 1492.2 800.6 C1483.5 800.0 1465.8 806.2 1462.4 800.6 Z" fill="#3f4953"/>
<path d="M1482.9 767.0 C1485.1 761.4 1490.7 752.7 1496.0 748.4 C1501.3 744.0 1510.0 740.6 1514.6 740.9 C1519.3 741.2 1523.0 745.9 1524.0 750.2 C1524.9 754.6 1522.4 761.7 1520.2 767.0 C1518.0 772.3 1515.2 778.2 1510.9 781.9 C1506.5 785.7 1498.8 789.4 1494.1 789.4 C1489.4 789.4 1484.8 785.7 1482.9 781.9 C1481.0 778.2 1480.7 772.6 1482.9 767.0 Z" fill="#74808b" opacity=".5"/>
<path d="M1443.7 867.8 C1444.4 859.7 1447.5 834.5 1451.2 823.0 C1454.9 811.5 1458.7 803.2 1466.1 798.7 C1473.6 794.2 1487.0 795.6 1496.0 795.9 C1505.0 796.2 1514.6 795.8 1520.2 800.6 C1525.8 805.4 1528.9 818.3 1529.6 824.9 C1530.2 831.4 1529.6 835.3 1524.0 839.8 C1518.4 844.3 1505.3 848.5 1496.0 851.9 C1486.6 855.3 1476.1 857.0 1468.0 860.3 C1459.9 863.6 1451.5 870.2 1447.5 871.5 C1443.4 872.7 1443.1 875.8 1443.7 867.8 Z" fill="#1c1d21"/>
<path d="M1458.3 845.4 C1457.5 840.6 1464.0 817.2 1466.1 817.4 C1468.2 817.5 1472.1 841.6 1470.8 846.3 C1469.5 851.0 1459.1 850.2 1458.3 845.4 Z" fill="#9a9c9e"/>
<path d="M1598.9 850.0 C1600.2 849.0 1609.2 854.8 1612.3 857.7 C1615.5 860.5 1619.4 866.3 1618.1 867.2 C1616.8 868.2 1607.9 866.3 1604.7 863.4 C1601.5 860.5 1597.7 851.0 1598.9 850.0 Z" fill="#3c4a54"/>
<path d="M1585.5 1018.5 C1585.5 1014.0 1615.9 1002.9 1631.5 995.5 C1647.1 988.2 1665.0 980.9 1679.4 974.5 C1693.7 968.1 1710.3 963.0 1717.7 957.2 C1725.0 951.5 1716.4 942.9 1723.4 940.0 C1730.4 937.1 1757.2 935.2 1759.8 940.0 C1762.4 944.8 1744.2 962.7 1738.7 968.7 C1733.3 974.8 1729.8 971.9 1727.2 976.4 C1724.7 980.9 1729.8 988.5 1723.4 995.5 C1717.0 1002.6 1704.3 1014.0 1688.9 1018.5 C1673.6 1023.0 1648.7 1022.3 1631.5 1022.3 C1614.3 1022.3 1585.5 1023.0 1585.5 1018.5 Z" fill="#e3e4e6"/>
<path d="M1706.2 995.5 C1711.6 990.3 1721.5 981.8 1727.2 977.3 C1733.0 972.9 1734.9 974.6 1740.7 968.7 C1746.4 962.8 1751.2 946.7 1761.7 941.9 C1772.2 937.1 1796.8 925.0 1803.8 940.0 C1810.9 955.0 1823.0 1016.6 1803.8 1031.9 C1784.7 1047.2 1707.1 1035.8 1688.9 1031.9 C1670.8 1028.1 1691.8 1015.0 1694.7 1008.9 C1697.6 1002.9 1700.8 1000.8 1706.2 995.5 Z" fill="#0b0f0c"/>
<path d="M1445.7 867.2 C1450.2 860.2 1466.5 858.6 1478.3 853.8 C1490.1 849.0 1508.0 842.7 1516.6 838.5 C1525.2 834.4 1524.9 825.7 1530.0 828.9 C1535.1 832.1 1539.9 849.7 1547.2 857.7 C1554.6 865.6 1566.4 876.2 1574.0 876.8 C1581.7 877.4 1587.5 864.0 1593.2 861.5 C1598.9 858.9 1602.1 857.0 1608.5 861.5 C1614.9 866.0 1625.8 879.4 1631.5 888.3 C1637.2 897.2 1640.1 907.4 1643.0 915.1 C1645.9 922.8 1650.0 929.2 1648.7 934.3 C1647.5 939.4 1638.2 941.3 1635.3 945.7 C1632.5 950.2 1635.3 958.2 1631.5 961.1 C1627.7 963.9 1618.7 961.7 1612.3 963.0 C1606.0 964.3 1597.3 965.2 1593.2 968.7 C1589.0 972.2 1587.8 978.3 1587.5 984.0 C1587.1 989.8 1599.9 1000.0 1591.3 1003.2 C1582.7 1006.4 1551.4 1008.3 1535.7 1003.2 C1520.1 998.1 1508.3 984.0 1497.4 972.6 C1486.6 961.1 1478.3 947.0 1470.6 934.3 C1463.0 921.5 1455.6 907.1 1451.5 896.0 C1447.3 884.8 1441.3 874.3 1445.7 867.2 Z" fill="#e6e0e8"/>
<path d="M1455.3 873.0 C1456.9 867.6 1465.2 860.5 1470.6 867.2 C1476.1 873.9 1482.4 899.5 1487.9 913.2 C1493.3 926.9 1497.8 939.7 1503.2 949.6 C1508.6 959.5 1520.4 970.0 1520.4 972.6 C1520.4 975.1 1510.2 971.6 1503.2 964.9 C1496.2 958.2 1485.3 943.2 1478.3 932.3 C1471.3 921.5 1464.9 909.7 1461.1 899.8 C1457.2 889.9 1453.7 878.4 1455.3 873.0 Z" fill="#c9c3cf" opacity=".55"/>
<path d="M1608.5 865.3 C1611.4 865.6 1623.8 881.6 1629.6 890.2 C1635.3 898.8 1640.1 910.0 1643.0 917.0 C1645.9 924.0 1648.4 928.5 1646.8 932.3 C1645.2 936.2 1637.2 943.2 1633.4 940.0 C1629.6 936.8 1627.3 921.8 1623.8 913.2 C1620.3 904.6 1614.9 896.3 1612.3 888.3 C1609.8 880.3 1605.6 865.0 1608.5 865.3 Z" fill="#cfc9d4" opacity=".6"/>
<path d="M1503.2 964.9 C1506.1 960.7 1529.7 956.6 1539.6 957.2 C1549.5 957.9 1561.3 964.3 1562.6 968.7 C1563.8 973.2 1553.9 981.8 1547.2 984.0 C1540.5 986.3 1529.7 985.3 1522.3 982.1 C1515.0 978.9 1500.3 969.0 1503.2 964.9 Z" fill="#d4cfd9" opacity=".55"/>
<path d="M1574.0 930.4 C1577.6 928.8 1591.0 935.5 1593.2 940.0 C1595.4 944.5 1591.0 955.6 1587.5 957.2 C1583.9 958.8 1574.4 954.0 1572.1 949.6 C1569.9 945.1 1570.5 932.0 1574.0 930.4 Z" fill="#d8d3dc" opacity=".5"/>
<path d="M1463.0 888.3 C1465.5 890.2 1473.8 895.6 1478.3 899.8 C1482.8 903.9 1487.9 911.0 1489.8 913.2" fill="none" stroke="#bdb6c4" stroke-opacity=".55" stroke-width="5" stroke-linecap="round"/>
<path d="M1466.8 907.4 C1469.7 909.0 1478.9 912.9 1484.0 917.0 C1489.2 921.2 1495.2 929.8 1497.4 932.3" fill="none" stroke="#bdb6c4" stroke-opacity=".55" stroke-width="5" stroke-linecap="round"/>
<path d="M1478.3 930.4 C1481.5 932.0 1492.3 936.2 1497.4 940.0 C1502.6 943.8 1507.0 951.2 1508.9 953.4" fill="none" stroke="#bdb6c4" stroke-opacity=".55" stroke-width="5" stroke-linecap="round"/>
<path d="M1497.4 957.2 C1500.6 958.5 1510.9 962.0 1516.6 964.9 C1522.3 967.8 1529.4 972.9 1531.9 974.5" fill="none" stroke="#bdb6c4" stroke-opacity=".55" stroke-width="5" stroke-linecap="round"/>
<path d="M1539.6 913.2 C1542.1 916.1 1551.1 924.4 1554.9 930.4 C1558.7 936.5 1561.3 946.4 1562.6 949.6" fill="none" stroke="#bdb6c4" stroke-opacity=".55" stroke-width="5" stroke-linecap="round"/>
<path d="M1585.5 907.4 C1587.5 911.3 1595.8 923.4 1597.0 930.4 C1598.3 937.5 1593.8 946.4 1593.2 949.6" fill="none" stroke="#bdb6c4" stroke-opacity=".55" stroke-width="5" stroke-linecap="round"/>
<path d="M1522.3 987.9 C1526.5 987.2 1539.9 986.6 1547.2 984.0 C1554.6 981.5 1563.2 974.5 1566.4 972.6" fill="none" stroke="#bdb6c4" stroke-opacity=".55" stroke-width="5" stroke-linecap="round"/>
<path d="M1539.6 838.5 C1540.9 837.9 1549.5 852.2 1554.9 857.7 C1560.3 863.1 1568.3 866.9 1572.1 871.1 C1576.0 875.2 1579.5 881.3 1577.9 882.6 C1576.3 883.8 1567.7 882.2 1562.6 878.7 C1557.5 875.2 1551.1 868.2 1547.2 861.5 C1543.4 854.8 1538.3 839.1 1539.6 838.5 Z" fill="#a46f52"/>
<path d="M1570.0 738.0 C1577.5 737.7 1584.5 740.0 1590.0 743.0 C1595.5 746.0 1599.6 749.5 1603.0 756.0 C1606.4 762.5 1609.3 772.7 1610.5 782.0 C1611.7 791.3 1611.1 802.3 1610.0 812.0 C1608.9 821.7 1607.0 831.8 1604.0 840.0 C1601.0 848.2 1596.0 856.2 1592.0 861.0 C1588.0 865.8 1585.0 868.5 1580.0 869.0 C1575.0 869.5 1568.2 868.5 1562.0 864.0 C1555.8 859.5 1548.0 850.2 1543.0 842.0 C1538.0 833.8 1534.7 824.5 1532.0 815.0 C1529.3 805.5 1527.2 793.8 1527.0 785.0 C1526.8 776.2 1528.0 768.7 1531.0 762.0 C1534.0 755.3 1538.5 749.0 1545.0 745.0 C1551.5 741.0 1562.5 738.3 1570.0 738.0 Z" fill="#cf9468"/>
<ellipse cx="1572" cy="766" rx="30" ry="21" fill="#e7af80" opacity=".9"/>
<path d="M1527.7 757.7 C1529.9 753.2 1536.9 745.2 1537.9 747.4 C1539.0 749.6 1535.1 763.1 1534.2 770.7 C1533.3 778.4 1533.7 789.2 1532.4 793.1 C1531.0 797.0 1527.4 797.2 1526.2 794.1 C1525.0 791.0 1524.6 780.5 1524.9 774.5 C1525.1 768.4 1525.5 762.2 1527.7 757.7 Z" fill="#8a6048" opacity=".7"/>
<path d="M1598.6 770.7 C1600.9 769.5 1609.0 777.6 1610.7 785.7 C1612.4 793.8 1610.6 810.5 1608.8 819.3 C1607.1 828.0 1603.1 838.5 1600.4 837.9 C1597.8 837.3 1593.6 823.0 1593.0 815.5 C1592.4 808.1 1595.8 800.6 1596.7 793.1 C1597.6 785.7 1596.2 772.0 1598.6 770.7 Z" fill="#9a6446" opacity=".6"/>
<ellipse cx="1525" cy="812" rx="8" ry="14" fill="#c4865f"/>
<path d="M1534.2 813.7 C1533.4 816.8 1536.2 827.5 1538.9 834.2 C1541.5 840.9 1545.4 848.5 1550.1 853.8 C1554.7 859.1 1561.0 863.1 1566.9 865.9 C1572.8 868.7 1580.2 871.2 1585.5 870.6 C1590.8 869.9 1595.4 866.1 1598.6 862.2 C1601.8 858.3 1603.9 851.4 1604.6 847.2 C1605.2 843.0 1604.9 839.0 1602.3 837.0 C1599.8 835.0 1593.6 835.0 1589.3 835.1 C1584.9 835.2 1580.5 837.7 1576.2 837.5 C1571.8 837.4 1567.2 836.0 1563.1 834.2 C1559.1 832.4 1555.2 829.8 1551.9 826.7 C1548.7 823.6 1546.5 817.7 1543.5 815.5 C1540.6 813.3 1535.0 810.5 1534.2 813.7 Z" fill="#221b1b"/>
<path d="M1576.2 844.4 C1576.2 843.5 1583.7 842.6 1587.4 842.6 C1591.1 842.6 1598.6 843.5 1598.6 844.4 C1598.6 845.4 1591.1 848.2 1587.4 848.2 C1583.7 848.2 1576.2 845.4 1576.2 844.4 Z" fill="#a46a5a"/>
<path d="M1557.5 800.6 C1559.7 800.0 1566.2 796.9 1570.6 796.9 C1575.0 796.9 1581.5 800.0 1583.7 800.6" fill="none" stroke="#2a1c18" stroke-width="2.4"/>
<path d="M1596.7 800.6 C1598.3 800.1 1603.2 797.8 1606.0 797.8 C1608.8 797.8 1612.3 800.1 1613.5 800.6" fill="none" stroke="#2a1c18" stroke-width="2.4"/>
<ellipse cx="1570.6" cy="809.0" rx="6" ry="2.8" fill="#2a1c18"/>
<ellipse cx="1604.2" cy="807.1" rx="5" ry="2.6" fill="#2a1c18"/>
<ellipse cx="1570.6" cy="811.2" rx="12.5" ry="12" fill="#fff" fill-opacity=".08" stroke="#d9d2b8" stroke-width="1.5"/>
<ellipse cx="1609.8" cy="809.4" rx="10" ry="12" fill="#fff" fill-opacity=".08" stroke="#d9d2b8" stroke-width="1.5"/>
<path d="M1527.7 800.6 C1530.5 801.1 1539.4 802.0 1544.5 803.4 C1549.5 804.8 1555.7 808.1 1557.9 809.0" fill="none" stroke="#d9d2b8" stroke-width="1.2"/>
<path d="M1589.3 811.8 C1591.6 812.1 1598.6 826.6 1598.6 830.4 C1598.6 834.3 1591.6 835.4 1589.3 835.1 C1586.9 834.8 1584.6 832.5 1584.6 828.6 C1584.6 824.7 1586.9 811.5 1589.3 811.8 Z" fill="#9c6448" opacity=".8"/>
<path d="M1524.3 830.9 C1526.2 831.2 1530.6 846.5 1535.7 853.8 C1540.9 861.2 1548.8 867.9 1554.9 874.9 C1561.0 881.9 1571.5 892.1 1572.1 896.0 C1572.8 899.8 1564.2 901.1 1558.7 897.9 C1553.3 894.7 1545.3 884.5 1539.6 876.8 C1533.8 869.1 1526.8 859.6 1524.3 851.9 C1521.7 844.3 1522.3 830.5 1524.3 830.9 Z" fill="#f4eff5"/>
<path d="M1593.2 861.5 C1598.6 858.9 1606.0 860.5 1606.6 863.4 C1607.2 866.3 1601.8 873.9 1597.0 878.7 C1592.2 883.5 1581.7 892.1 1577.9 892.1 C1574.0 892.1 1571.5 883.8 1574.0 878.7 C1576.6 873.6 1587.8 864.0 1593.2 861.5 Z" fill="#f4eff5"/>
<path d="M1535.7 853.8 C1538.9 857.3 1548.8 867.9 1554.9 874.9 C1561.0 881.9 1569.3 892.4 1572.1 896.0" fill="none" stroke="#b9b2be" stroke-width="1.2"/>
<ellipse cx="1576.9" cy="894.4" rx="4.5" ry="4" fill="#9d97a2"/>
<ellipse cx="1570.6" cy="901.3" rx="2" ry="4" fill="#5d5961"/>
<ellipse cx="1567.9" cy="923.7" rx="7" ry="7.5" fill="#2a282d"/>
<ellipse cx="1568.7" cy="922.8" rx="3" ry="3.5" fill="#8a8890"/>
<path d="M1574.0 995.5 C1576.0 988.8 1584.3 978.0 1589.4 972.6 C1594.5 967.1 1598.9 964.3 1604.7 963.0 C1610.4 961.7 1615.5 963.3 1623.8 964.9 C1632.1 966.5 1650.0 968.7 1654.5 972.6 C1658.9 976.4 1654.5 983.1 1650.6 987.9 C1646.8 992.7 1639.2 997.1 1631.5 1001.3 C1623.8 1005.4 1613.6 1010.9 1604.7 1012.8 C1595.8 1014.7 1583.0 1015.6 1577.9 1012.8 C1572.8 1009.9 1572.1 1002.2 1574.0 995.5 Z" fill="#bd8763"/>
<path d="M1633.4 945.7 C1634.7 941.9 1638.5 937.8 1643.0 934.3 C1647.5 930.7 1654.5 925.3 1660.2 924.7 C1666.0 924.0 1673.0 926.9 1677.5 930.4 C1681.9 933.9 1686.1 941.0 1687.0 945.7 C1688.0 950.5 1686.7 956.0 1683.2 959.2 C1679.7 962.3 1672.0 963.9 1666.0 964.9 C1659.9 965.9 1651.9 966.2 1646.8 964.9 C1641.7 963.6 1637.6 960.4 1635.3 957.2 C1633.1 954.0 1632.1 949.6 1633.4 945.7 Z" fill="#c48f69"/>
<path d="M1637.2 949.6 C1638.5 948.0 1647.5 951.2 1650.6 953.4 C1653.8 955.6 1657.7 961.4 1656.4 963.0 C1655.1 964.6 1646.2 965.2 1643.0 963.0 C1639.8 960.7 1636.0 951.2 1637.2 949.6 Z" fill="#9a654a" opacity=".7"/>
<path d="M1654.5 896.9 C1654.5 901.9 1655.2 915.7 1654.9 926.6 C1654.5 937.5 1652.6 956.1 1652.2 962.0" fill="none" stroke="#33343a" stroke-width="3.4" stroke-linecap="round"/>
<path d="M1656.8 897.9 C1656.8 902.7 1657.1 921.8 1657.2 926.6" fill="none" stroke="#c5c6ca" stroke-width="1.1" stroke-linecap="round"/>
<path d="M1612.3 982.1 C1624.2 977.5 1664.1 964.4 1687.0 957.2 C1710.0 950.1 1739.1 941.6 1750.2 939.0 C1761.4 936.5 1759.5 938.6 1754.1 941.9 C1748.6 945.3 1724.4 954.0 1717.7 959.2 C1711.0 964.3 1718.9 970.0 1713.8 972.6 C1708.7 975.1 1691.8 975.8 1687.0 974.5 C1682.2 973.2 1696.9 963.1 1685.1 964.9 C1673.3 966.7 1628.3 982.1 1616.2 985.0 C1604.0 987.9 1600.5 986.8 1612.3 982.1 Z" fill="#17181c"/>
<path d="M1715.8 961.1 C1722.1 955.3 1754.7 940.0 1759.8 940.0 C1764.9 940.0 1750.5 955.6 1746.4 961.1 C1742.2 966.5 1739.1 970.3 1734.9 972.6 C1730.8 974.8 1724.7 976.4 1721.5 974.5 C1718.3 972.6 1709.4 966.8 1715.8 961.1 Z" fill="#f0f0f2"/>
<path d="M1613.3 982.1 C1612.5 982.5 1608.7 981.8 1608.5 984.0 C1608.4 986.3 1610.4 994.3 1612.3 995.5 C1614.3 996.8 1618.6 993.9 1620.0 991.7 C1621.4 989.5 1622.9 980.5 1621.0 982.1 C1619.1 983.7 1611.9 995.9 1608.5 1001.3 C1605.2 1006.7 1602.1 1012.5 1600.9 1014.7" fill="none" stroke="#26262b" stroke-width="2.4"/>
<path d="M1639.2 998.4 C1646.7 994.9 1677.6 994.1 1685.1 997.5 C1692.6 1000.8 1691.7 1015.0 1684.2 1018.5 C1676.7 1022.0 1647.6 1021.9 1640.1 1018.5 C1632.6 1015.2 1631.7 1001.9 1639.2 998.4 Z" fill="#50544f"/>
<path d="M1633.4 992.7 C1634.1 990.6 1646.8 991.2 1650.6 987.9 C1654.5 984.5 1653.8 973.2 1656.4 972.6 C1658.9 971.9 1661.5 984.5 1666.0 984.0 C1670.4 983.6 1680.6 969.4 1683.2 969.7 C1685.8 970.0 1679.7 982.3 1681.3 986.0 C1682.9 989.6 1694.7 989.2 1692.8 991.7 C1690.9 994.3 1677.5 999.8 1669.8 1001.3 C1662.1 1002.7 1652.9 1001.8 1646.8 1000.3 C1640.8 998.9 1632.8 994.7 1633.4 992.7 Z" fill="#58b35e"/>
<path d="M1654.5 991.7 C1654.5 988.8 1661.2 982.1 1664.1 982.1 C1666.9 982.1 1671.7 988.8 1671.7 991.7 C1671.7 994.6 1666.9 999.4 1664.1 999.4 C1661.2 999.4 1654.5 994.6 1654.5 991.7 Z" fill="#2f7e3c"/>
<path d="M1660.2 980.2 C1659.9 978.6 1663.9 973.8 1665.0 974.5 C1666.1 975.1 1667.7 983.1 1666.9 984.0 C1666.1 985.0 1660.5 981.8 1660.2 980.2 Z" fill="#a9e0a6" opacity=".7"/>
</g>
<circle cx="1618" cy="848.7" r="172" fill="none" stroke="#0a4219" stroke-opacity=".98" stroke-width="13" filter="url(#b2)"/>
<path d="M1447 905 A172 172 0 0 0 1600 1021 L1600 1040 L1430 1040 L1430 905 Z M1459 880 A160 160 0 0 0 1600 1003" fill="none" stroke="#08260f" stroke-opacity=".9" stroke-width="16" stroke-linecap="round" filter="url(#b4)" transform="translate(-3,4)"/>
</g>
<circle cx="1618" cy="848.7" r="171.5" fill="none" stroke="#0d4a1d" stroke-width="2.6"/>
<circle cx="1618" cy="848.7" r="171.8" fill="none" stroke="url(#ringg)" stroke-width="2.8" filter="url(#b1)"/>
<g clip-path="url(#c200)"><text transform="translate(1748.2,967) scale(1.0,1.05)" font-size="18.5" text-anchor="middle" style="fill:#d4d4d4">200</text></g>
<line x1="1745" y1="947.4" x2="1800" y2="947.4" stroke="#575757" stroke-width="2.2"/>
<text class="t2" x="1256" y="250.3" font-size="26.5" textLength="376" lengthAdjust="spacingAndGlyphs" style="fill:#ececec;fill-opacity:.93;stroke:#ececec;stroke-width:.75;stroke-opacity:.9">we try to get its mu close to y</text>
<text class="t2" x="1809.8" y="1061.5" font-size="22" textLength="62" lengthAdjust="spacingAndGlyphs" style="fill:#8c8c8c;stroke:#8c8c8c;stroke-width:.6">udemy</text>
<polyline points="1810.6,1047.2 1815,1043.8 1819.4,1047.2" fill="none" stroke="#8c8c8c" stroke-width="1.6"/>
</g></svg></body></html>
